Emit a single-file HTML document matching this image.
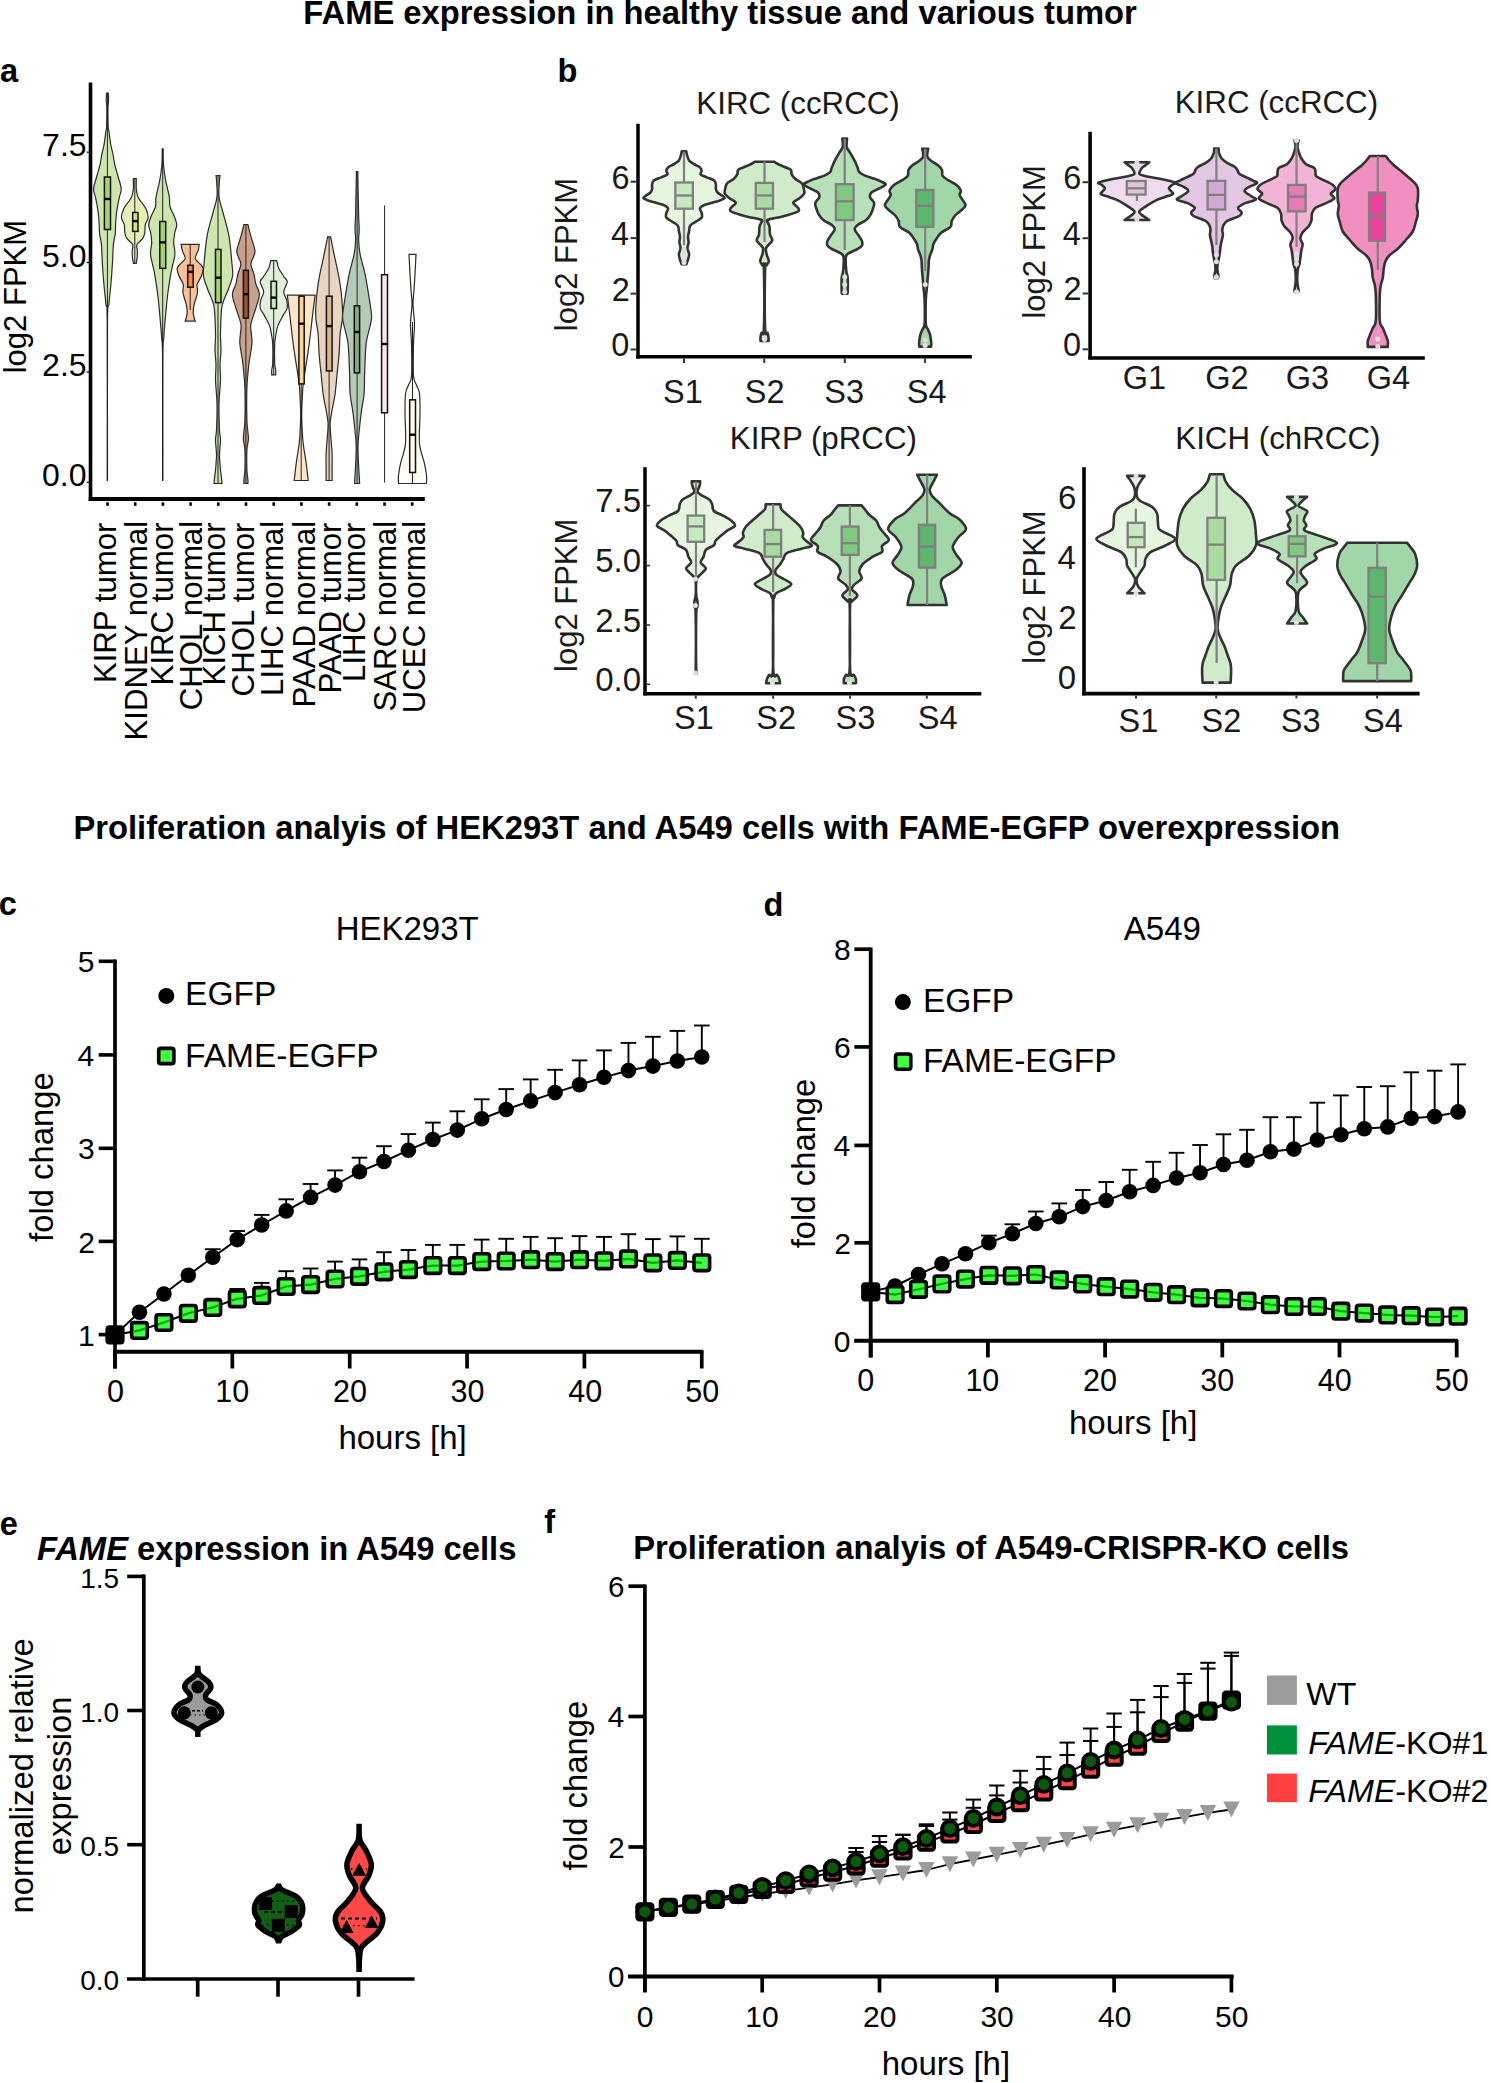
<!DOCTYPE html>
<html><head><meta charset="utf-8"><style>
html,body{margin:0;padding:0;background:#fff;width:1491px;height:2083px;overflow:hidden}
svg{display:block}
text{font-family:"Liberation Sans",sans-serif}
</style></head><body>
<svg width="1491" height="2083" viewBox="0 0 1491 2083" font-family="Liberation Sans, sans-serif">
<rect width="1491" height="2083" fill="#fff"/>
<text x="303.29" y="23.70" font-size="32.75" font-weight="bold">FAME expression in healthy tissue and various tumor</text>
<text x="73.39" y="838.90" font-size="32.75" font-weight="bold">Proliferation analyis of HEK293T and A549 cells with FAME-EGFP overexpression</text>
<text x="0.02" y="82.30" font-size="32.6" font-weight="bold">a</text>
<path d="M108.20,93.00 C108.27,94.17 108.63,97.50 108.60,100.00 C108.57,102.50 108.07,103.53 108.00,108.00 C107.93,112.47 108.05,122.97 108.20,126.80 C108.35,130.63 108.47,128.00 108.90,131.00 C109.33,134.00 110.13,140.97 110.80,144.80 C111.47,148.63 112.23,150.68 112.90,154.00 C113.57,157.32 113.97,161.03 114.80,164.70 C115.63,168.37 116.83,172.02 117.90,176.00 C118.97,179.98 120.95,185.10 121.20,188.60 C121.45,192.10 119.95,194.35 119.40,197.00 C118.85,199.65 118.40,201.67 117.90,204.50 C117.40,207.33 116.78,210.67 116.40,214.00 C116.02,217.33 115.80,221.17 115.60,224.50 C115.40,227.83 115.57,230.68 115.20,234.00 C114.83,237.32 113.87,239.35 113.40,244.40 C112.93,249.45 112.82,257.67 112.40,264.30 C111.98,270.93 111.48,277.55 110.90,284.20 C110.32,290.85 109.47,297.57 108.90,304.20 C108.33,310.83 107.73,294.62 107.50,324.00 C107.27,353.38 107.50,454.42 107.50,480.50 L107.30,480.50 C107.30,454.42 107.53,353.38 107.30,324.00 C107.07,294.62 106.47,310.83 105.90,304.20 C105.33,297.57 104.48,290.85 103.90,284.20 C103.32,277.55 102.82,270.93 102.40,264.30 C101.98,257.67 101.87,249.45 101.40,244.40 C100.93,239.35 99.97,237.32 99.60,234.00 C99.23,230.68 99.40,227.83 99.20,224.50 C99.00,221.17 98.78,217.33 98.40,214.00 C98.02,210.67 97.40,207.33 96.90,204.50 C96.40,201.67 95.95,199.65 95.40,197.00 C94.85,194.35 93.35,192.10 93.60,188.60 C93.85,185.10 95.83,179.98 96.90,176.00 C97.97,172.02 99.17,168.37 100.00,164.70 C100.83,161.03 101.23,157.32 101.90,154.00 C102.57,150.68 103.33,148.63 104.00,144.80 C104.67,140.97 105.47,134.00 105.90,131.00 C106.33,128.00 106.45,130.63 106.60,126.80 C106.75,122.97 106.87,112.47 106.80,108.00 C106.73,103.53 106.23,102.50 106.20,100.00 C106.17,97.50 106.53,94.17 106.60,93.00 Z" fill="#cde6ad" stroke="#2b2b2b" stroke-width="1.2"/>
<line x1="107.4" y1="93" x2="107.4" y2="480.5" stroke="#222" stroke-width="1.0"/>
<rect x="104.4" y="177" width="6.10" height="52.50" fill="#a8d46f" stroke="#111" stroke-width="1.5"/>
<line x1="104.4" y1="199" x2="110.5" y2="199" stroke="#000" stroke-width="2.4"/>
<path d="M136.30,178.60 C136.30,180.27 136.05,185.60 136.30,188.60 C136.55,191.60 136.97,194.37 137.80,196.60 C138.63,198.83 139.97,200.02 141.30,202.00 C142.63,203.98 144.65,205.92 145.80,208.50 C146.95,211.08 148.28,214.83 148.20,217.50 C148.12,220.17 145.87,222.02 145.30,224.50 C144.73,226.98 145.22,230.08 144.80,232.40 C144.38,234.72 144.10,236.40 142.80,238.40 C141.50,240.40 137.92,242.47 137.00,244.40 C136.08,246.33 137.25,248.07 137.30,250.00 C137.35,251.93 137.47,253.78 137.30,256.00 C137.13,258.22 136.47,262.08 136.30,263.30 L133.30,263.30 C133.13,262.08 132.47,258.22 132.30,256.00 C132.13,253.78 132.25,251.93 132.30,250.00 C132.35,248.07 133.52,246.33 132.60,244.40 C131.68,242.47 128.10,240.40 126.80,238.40 C125.50,236.40 125.22,234.72 124.80,232.40 C124.38,230.08 124.87,226.98 124.30,224.50 C123.73,222.02 121.48,220.17 121.40,217.50 C121.32,214.83 122.65,211.08 123.80,208.50 C124.95,205.92 126.97,203.98 128.30,202.00 C129.63,200.02 130.97,198.83 131.80,196.60 C132.63,194.37 133.05,191.60 133.30,188.60 C133.55,185.60 133.30,180.27 133.30,178.60 Z" fill="#e4eeb5" stroke="#2b2b2b" stroke-width="1.2"/>
<line x1="134.8" y1="178.6" x2="134.8" y2="263.3" stroke="#222" stroke-width="1.0"/>
<rect x="132.7" y="212.5" width="5.30" height="18.90" fill="#d4e67a" stroke="#111" stroke-width="1.5"/>
<line x1="132.7" y1="221.1" x2="138" y2="221.1" stroke="#000" stroke-width="2.4"/>
<path d="M163.10,148.80 C163.17,151.45 163.07,159.40 163.50,164.70 C163.93,170.00 164.73,175.28 165.70,180.60 C166.67,185.92 168.60,192.28 169.30,196.60 C170.00,200.92 169.17,203.43 169.90,206.50 C170.63,209.57 172.57,212.00 173.70,215.00 C174.83,218.00 176.53,221.50 176.70,224.50 C176.87,227.50 175.20,230.02 174.70,233.00 C174.20,235.98 173.70,239.57 173.70,242.40 C173.70,245.23 174.53,247.67 174.70,250.00 C174.87,252.33 175.03,253.90 174.70,256.40 C174.37,258.90 173.37,262.02 172.70,265.00 C172.03,267.98 171.53,269.43 170.70,274.30 C169.87,279.17 168.53,287.57 167.70,294.20 C166.87,300.83 166.37,306.80 165.70,314.10 C165.03,321.40 164.18,330.35 163.70,338.00 C163.22,345.65 162.95,336.25 162.80,360.00 C162.65,383.75 162.80,460.42 162.80,480.50 L162.60,480.50 C162.60,460.42 162.75,383.75 162.60,360.00 C162.45,336.25 162.18,345.65 161.70,338.00 C161.22,330.35 160.37,321.40 159.70,314.10 C159.03,306.80 158.53,300.83 157.70,294.20 C156.87,287.57 155.53,279.17 154.70,274.30 C153.87,269.43 153.37,267.98 152.70,265.00 C152.03,262.02 151.03,258.90 150.70,256.40 C150.37,253.90 150.53,252.33 150.70,250.00 C150.87,247.67 151.70,245.23 151.70,242.40 C151.70,239.57 151.20,235.98 150.70,233.00 C150.20,230.02 148.53,227.50 148.70,224.50 C148.87,221.50 150.57,218.00 151.70,215.00 C152.83,212.00 154.77,209.57 155.50,206.50 C156.23,203.43 155.40,200.92 156.10,196.60 C156.80,192.28 158.73,185.92 159.70,180.60 C160.67,175.28 161.47,170.00 161.90,164.70 C162.33,159.40 162.23,151.45 162.30,148.80 Z" fill="#cde6ad" stroke="#2b2b2b" stroke-width="1.2"/>
<line x1="162.7" y1="148.8" x2="162.7" y2="480.5" stroke="#222" stroke-width="1.0"/>
<rect x="159.8" y="221.5" width="5.90" height="46.80" fill="#a8d46f" stroke="#111" stroke-width="1.5"/>
<line x1="159.8" y1="242.4" x2="165.7" y2="242.4" stroke="#000" stroke-width="2.4"/>
<path d="M199.20,244.40 C199.03,245.40 198.87,248.08 198.20,250.40 C197.53,252.72 195.03,256.20 195.20,258.30 C195.37,260.40 197.87,261.33 199.20,263.00 C200.53,264.67 202.87,266.08 203.20,268.30 C203.53,270.52 202.20,273.65 201.20,276.30 C200.20,278.95 197.83,282.08 197.20,284.20 C196.57,286.32 197.40,287.33 197.40,289.00 C197.40,290.67 197.73,291.67 197.20,294.20 C196.67,296.73 194.87,301.22 194.20,304.20 C193.53,307.18 193.20,309.80 193.20,312.10 C193.20,314.40 193.87,316.50 194.20,318.00 C194.53,319.50 195.03,320.58 195.20,321.10 L185.20,321.10 C185.37,320.58 185.87,319.50 186.20,318.00 C186.53,316.50 187.20,314.40 187.20,312.10 C187.20,309.80 186.87,307.18 186.20,304.20 C185.53,301.22 183.73,296.73 183.20,294.20 C182.67,291.67 183.00,290.67 183.00,289.00 C183.00,287.33 183.83,286.32 183.20,284.20 C182.57,282.08 180.20,278.95 179.20,276.30 C178.20,273.65 176.87,270.52 177.20,268.30 C177.53,266.08 179.87,264.67 181.20,263.00 C182.53,261.33 185.03,260.40 185.20,258.30 C185.37,256.20 182.87,252.72 182.20,250.40 C181.53,248.08 181.37,245.40 181.20,244.40 Z" fill="#f9c095" stroke="#2b2b2b" stroke-width="1.2"/>
<line x1="190.2" y1="244.4" x2="190.2" y2="310" stroke="#222" stroke-width="1.0"/>
<rect x="187.7" y="265.3" width="5.50" height="21.90" fill="#f28b3c" stroke="#111" stroke-width="1.5"/>
<line x1="187.7" y1="271.9" x2="193.2" y2="271.9" stroke="#000" stroke-width="2.4"/>
<path d="M220.00,175.70 C219.92,176.42 219.67,176.52 219.50,180.00 C219.33,183.48 218.42,191.18 219.00,196.60 C219.58,202.02 221.33,205.87 223.00,212.50 C224.67,219.13 227.50,227.77 229.00,236.40 C230.50,245.03 231.42,257.65 232.00,264.30 C232.58,270.95 233.17,271.98 232.50,276.30 C231.83,280.62 229.75,285.22 228.00,290.20 C226.25,295.18 223.25,298.90 222.00,306.20 C220.75,313.50 220.67,326.70 220.50,334.00 C220.33,341.30 221.08,344.83 221.00,350.00 C220.92,355.17 220.08,360.00 220.00,365.00 C219.92,370.00 220.67,373.53 220.50,380.00 C220.33,386.47 219.17,395.47 219.00,403.80 C218.83,412.13 219.25,423.97 219.50,430.00 C219.75,436.03 220.50,435.83 220.50,440.00 C220.50,444.17 219.50,450.00 219.50,455.00 C219.50,460.00 220.17,466.17 220.50,470.00 C220.83,473.83 221.25,475.75 221.50,478.00 C221.75,480.25 221.92,482.58 222.00,483.50 L214.00,483.50 C214.08,482.58 214.25,480.25 214.50,478.00 C214.75,475.75 215.17,473.83 215.50,470.00 C215.83,466.17 216.50,460.00 216.50,455.00 C216.50,450.00 215.50,444.17 215.50,440.00 C215.50,435.83 216.25,436.03 216.50,430.00 C216.75,423.97 217.17,412.13 217.00,403.80 C216.83,395.47 215.67,386.47 215.50,380.00 C215.33,373.53 216.08,370.00 216.00,365.00 C215.92,360.00 215.08,355.17 215.00,350.00 C214.92,344.83 215.67,341.30 215.50,334.00 C215.33,326.70 215.25,313.50 214.00,306.20 C212.75,298.90 209.75,295.18 208.00,290.20 C206.25,285.22 204.17,280.62 203.50,276.30 C202.83,271.98 203.42,270.95 204.00,264.30 C204.58,257.65 205.50,245.03 207.00,236.40 C208.50,227.77 211.33,219.13 213.00,212.50 C214.67,205.87 216.42,202.02 217.00,196.60 C217.58,191.18 216.67,183.48 216.50,180.00 C216.33,176.52 216.08,176.42 216.00,175.70 Z" fill="#cde6ad" stroke="#2b2b2b" stroke-width="1.2"/>
<line x1="218" y1="175.7" x2="218" y2="483.5" stroke="#222" stroke-width="1.0"/>
<rect x="215.5" y="249.4" width="5.50" height="53.20" fill="#a8d46f" stroke="#111" stroke-width="1.5"/>
<line x1="215.5" y1="277.7" x2="221" y2="277.7" stroke="#000" stroke-width="2.4"/>
<path d="M247.90,224.50 C248.40,226.48 249.73,232.08 250.90,236.40 C252.07,240.72 254.48,246.97 254.90,250.40 C255.32,253.83 254.07,254.68 253.40,257.00 C252.73,259.32 250.82,261.47 250.90,264.30 C250.98,267.13 253.07,270.68 253.90,274.00 C254.73,277.32 254.98,280.83 255.90,284.20 C256.82,287.57 259.40,290.20 259.40,294.20 C259.40,298.20 257.32,303.22 255.90,308.20 C254.48,313.18 251.65,319.80 250.90,324.10 C250.15,328.40 251.23,330.68 251.40,334.00 C251.57,337.32 252.32,339.00 251.90,344.00 C251.48,349.00 249.73,356.70 248.90,364.00 C248.07,371.30 247.23,378.47 246.90,387.80 C246.57,397.13 246.73,412.63 246.90,420.00 C247.07,427.37 247.65,428.73 247.90,432.00 C248.15,435.27 248.57,436.60 248.40,439.60 C248.23,442.60 247.15,444.93 246.90,450.00 C246.65,455.07 246.73,465.08 246.90,470.00 C247.07,474.92 247.73,477.25 247.90,479.50 C248.07,481.75 247.90,482.83 247.90,483.50 L243.90,483.50 C243.90,482.83 243.73,481.75 243.90,479.50 C244.07,477.25 244.73,474.92 244.90,470.00 C245.07,465.08 245.15,455.07 244.90,450.00 C244.65,444.93 243.57,442.60 243.40,439.60 C243.23,436.60 243.65,435.27 243.90,432.00 C244.15,428.73 244.73,427.37 244.90,420.00 C245.07,412.63 245.23,397.13 244.90,387.80 C244.57,378.47 243.73,371.30 242.90,364.00 C242.07,356.70 240.32,349.00 239.90,344.00 C239.48,339.00 240.23,337.32 240.40,334.00 C240.57,330.68 241.65,328.40 240.90,324.10 C240.15,319.80 237.32,313.18 235.90,308.20 C234.48,303.22 232.40,298.20 232.40,294.20 C232.40,290.20 234.98,287.57 235.90,284.20 C236.82,280.83 237.07,277.32 237.90,274.00 C238.73,270.68 240.82,267.13 240.90,264.30 C240.98,261.47 239.07,259.32 238.40,257.00 C237.73,254.68 236.48,253.83 236.90,250.40 C237.32,246.97 239.73,240.72 240.90,236.40 C242.07,232.08 243.40,226.48 243.90,224.50 Z" fill="#c9a08a" stroke="#2b2b2b" stroke-width="1.2"/>
<line x1="245.9" y1="224.5" x2="245.9" y2="483.5" stroke="#222" stroke-width="1.0"/>
<rect x="243.4" y="270.3" width="5.00" height="47.80" fill="#a0522d" stroke="#111" stroke-width="1.5"/>
<line x1="243.4" y1="294.2" x2="248.4" y2="294.2" stroke="#000" stroke-width="2.4"/>
<path d="M276.70,260.70 C277.03,261.97 277.53,265.70 278.70,268.30 C279.87,270.90 282.28,274.13 283.70,276.30 C285.12,278.47 286.87,279.65 287.20,281.30 C287.53,282.95 286.28,284.38 285.70,286.20 C285.12,288.02 283.53,289.87 283.70,292.20 C283.87,294.53 286.12,297.55 286.70,300.20 C287.28,302.85 287.87,305.45 287.20,308.10 C286.53,310.75 284.28,313.10 282.70,316.10 C281.12,319.10 278.87,322.78 277.70,326.10 C276.53,329.42 276.20,333.02 275.70,336.00 C275.20,338.98 274.87,339.35 274.70,344.00 C274.53,348.65 274.53,359.57 274.70,363.90 C274.87,368.23 275.53,368.17 275.70,370.00 C275.87,371.83 275.70,374.08 275.70,374.90 L271.70,374.90 C271.70,374.08 271.53,371.83 271.70,370.00 C271.87,368.17 272.53,368.23 272.70,363.90 C272.87,359.57 272.87,348.65 272.70,344.00 C272.53,339.35 272.20,338.98 271.70,336.00 C271.20,333.02 270.87,329.42 269.70,326.10 C268.53,322.78 266.28,319.10 264.70,316.10 C263.12,313.10 260.87,310.75 260.20,308.10 C259.53,305.45 260.12,302.85 260.70,300.20 C261.28,297.55 263.53,294.53 263.70,292.20 C263.87,289.87 262.28,288.02 261.70,286.20 C261.12,284.38 259.87,282.95 260.20,281.30 C260.53,279.65 262.28,278.47 263.70,276.30 C265.12,274.13 267.53,270.90 268.70,268.30 C269.87,265.70 270.37,261.97 270.70,260.70 Z" fill="#e1f0dc" stroke="#2b2b2b" stroke-width="1.2"/>
<line x1="273.7" y1="260.7" x2="273.7" y2="374.9" stroke="#222" stroke-width="1.0"/>
<rect x="271" y="281.3" width="5.50" height="27.20" fill="#c8e6c0" stroke="#111" stroke-width="1.5"/>
<line x1="271" y1="297.6" x2="276.5" y2="297.6" stroke="#000" stroke-width="2.4"/>
<path d="M315.10,295.20 C314.70,298.35 313.68,305.97 312.70,314.10 C311.72,322.23 310.28,335.68 309.20,344.00 C308.12,352.32 307.20,357.35 306.20,364.00 C305.20,370.65 303.87,377.90 303.20,383.90 C302.53,389.90 302.45,395.03 302.20,400.00 C301.95,404.97 301.70,408.70 301.70,413.70 C301.70,418.70 301.95,425.02 302.20,430.00 C302.45,434.98 302.53,438.00 303.20,443.60 C303.87,449.20 305.37,457.45 306.20,463.60 C307.03,469.75 307.87,477.68 308.20,480.50 L294.20,480.50 C294.53,477.68 295.37,469.75 296.20,463.60 C297.03,457.45 298.53,449.20 299.20,443.60 C299.87,438.00 299.95,434.98 300.20,430.00 C300.45,425.02 300.70,418.70 300.70,413.70 C300.70,408.70 300.45,404.97 300.20,400.00 C299.95,395.03 299.87,389.90 299.20,383.90 C298.53,377.90 297.20,370.65 296.20,364.00 C295.20,357.35 294.28,352.32 293.20,344.00 C292.12,335.68 290.68,322.23 289.70,314.10 C288.72,305.97 287.70,298.35 287.30,295.20 Z" fill="#fde5c8" stroke="#2b2b2b" stroke-width="1.2"/>
<line x1="301.2" y1="295.2" x2="301.2" y2="480.5" stroke="#222" stroke-width="1.0"/>
<rect x="298.9" y="296.2" width="5.30" height="87.70" fill="#fdd49e" stroke="#111" stroke-width="1.5"/>
<line x1="298.9" y1="323.7" x2="304.2" y2="323.7" stroke="#000" stroke-width="2.4"/>
<path d="M330.60,236.80 C331.18,239.73 332.52,246.50 334.10,254.40 C335.68,262.30 338.68,274.25 340.10,284.20 C341.52,294.15 342.60,305.80 342.60,314.10 C342.60,322.40 340.68,327.35 340.10,334.00 C339.52,340.65 339.60,347.35 339.10,354.00 C338.60,360.65 337.77,367.27 337.10,373.90 C336.43,380.53 335.93,387.78 335.10,393.80 C334.27,399.82 332.93,405.02 332.10,410.00 C331.27,414.98 330.27,418.70 330.10,423.70 C329.93,428.70 330.77,435.02 331.10,440.00 C331.43,444.98 331.93,448.60 332.10,453.60 C332.27,458.60 332.10,465.52 332.10,470.00 C332.10,474.48 332.10,478.75 332.10,480.50 L326.10,480.50 C326.10,478.75 326.10,474.48 326.10,470.00 C326.10,465.52 325.93,458.60 326.10,453.60 C326.27,448.60 326.77,444.98 327.10,440.00 C327.43,435.02 328.27,428.70 328.10,423.70 C327.93,418.70 326.93,414.98 326.10,410.00 C325.27,405.02 323.93,399.82 323.10,393.80 C322.27,387.78 321.77,380.53 321.10,373.90 C320.43,367.27 319.60,360.65 319.10,354.00 C318.60,347.35 318.68,340.65 318.10,334.00 C317.52,327.35 315.60,322.40 315.60,314.10 C315.60,305.80 316.68,294.15 318.10,284.20 C319.52,274.25 322.52,262.30 324.10,254.40 C325.68,246.50 327.02,239.73 327.60,236.80 Z" fill="#e8d4bf" stroke="#2b2b2b" stroke-width="1.2"/>
<line x1="329.1" y1="236.8" x2="329.1" y2="480.5" stroke="#222" stroke-width="1.0"/>
<rect x="326.4" y="296.2" width="5.70" height="74.70" fill="#d9b68c" stroke="#111" stroke-width="1.5"/>
<line x1="326.4" y1="326.1" x2="332.1" y2="326.1" stroke="#000" stroke-width="2.4"/>
<path d="M357.80,171.70 C357.93,178.83 358.38,205.62 358.60,214.50 C358.82,223.38 359.02,222.02 359.10,225.00 C359.18,227.98 359.18,229.90 359.10,232.40 C359.02,234.90 358.43,236.33 358.60,240.00 C358.77,243.67 359.02,248.68 360.10,254.40 C361.18,260.12 363.43,266.00 365.10,274.30 C366.77,282.60 369.02,296.90 370.10,304.20 C371.18,311.50 371.77,313.80 371.60,318.10 C371.43,322.40 370.02,325.68 369.10,330.00 C368.18,334.32 366.85,336.68 366.10,344.00 C365.35,351.32 364.93,365.60 364.60,373.90 C364.27,382.20 364.68,387.17 364.10,393.80 C363.52,400.43 362.10,405.40 361.10,413.70 C360.10,422.00 358.52,435.05 358.10,443.60 C357.68,452.15 358.43,460.02 358.60,465.00 C358.77,469.98 358.93,470.42 359.10,473.50 C359.27,476.58 359.52,481.83 359.60,483.50 L354.60,483.50 C354.68,481.83 354.93,476.58 355.10,473.50 C355.27,470.42 355.43,469.98 355.60,465.00 C355.77,460.02 356.52,452.15 356.10,443.60 C355.68,435.05 354.10,422.00 353.10,413.70 C352.10,405.40 350.68,400.43 350.10,393.80 C349.52,387.17 349.93,382.20 349.60,373.90 C349.27,365.60 348.85,351.32 348.10,344.00 C347.35,336.68 346.02,334.32 345.10,330.00 C344.18,325.68 342.77,322.40 342.60,318.10 C342.43,313.80 343.02,311.50 344.10,304.20 C345.18,296.90 347.43,282.60 349.10,274.30 C350.77,266.00 353.02,260.12 354.10,254.40 C355.18,248.68 355.43,243.67 355.60,240.00 C355.77,236.33 355.18,234.90 355.10,232.40 C355.02,229.90 355.02,227.98 355.10,225.00 C355.18,222.02 355.38,223.38 355.60,214.50 C355.82,205.62 356.27,178.83 356.40,171.70 Z" fill="#b5cab6" stroke="#2b2b2b" stroke-width="1.2"/>
<line x1="357.1" y1="171.7" x2="357.1" y2="483.5" stroke="#222" stroke-width="1.0"/>
<rect x="354.3" y="305.8" width="5.30" height="67.10" fill="#86a986" stroke="#111" stroke-width="1.5"/>
<line x1="354.3" y1="332" x2="359.6" y2="332" stroke="#000" stroke-width="2.4"/>
<line x1="384.6" y1="205.5" x2="384.6" y2="482.5" stroke="#222" stroke-width="1.0"/>
<rect x="381.6" y="274.7" width="5.90" height="138.10" fill="#fae6f0" stroke="#111" stroke-width="1.5"/>
<line x1="381.6" y1="344" x2="387.5" y2="344" stroke="#000" stroke-width="2.4"/>
<path d="M416.00,254.40 C415.83,257.72 415.33,268.37 415.00,274.30 C414.67,280.23 414.33,285.02 414.00,290.00 C413.67,294.98 412.92,298.52 413.00,304.20 C413.08,309.88 414.42,317.47 414.50,324.10 C414.58,330.73 413.67,335.37 413.50,344.00 C413.33,352.63 413.00,369.07 413.50,375.90 C414.00,382.73 415.50,382.02 416.50,385.00 C417.50,387.98 418.92,389.02 419.50,393.80 C420.08,398.58 420.00,405.40 420.00,413.70 C420.00,422.00 418.75,435.28 419.50,443.60 C420.25,451.92 423.33,458.28 424.50,463.60 C425.67,468.92 426.17,472.18 426.50,475.50 C426.83,478.82 426.50,482.17 426.50,483.50 L398.50,483.50 C398.50,482.17 398.17,478.82 398.50,475.50 C398.83,472.18 399.33,468.92 400.50,463.60 C401.67,458.28 404.75,451.92 405.50,443.60 C406.25,435.28 405.00,422.00 405.00,413.70 C405.00,405.40 404.92,398.58 405.50,393.80 C406.08,389.02 407.50,387.98 408.50,385.00 C409.50,382.02 411.00,382.73 411.50,375.90 C412.00,369.07 411.67,352.63 411.50,344.00 C411.33,335.37 410.42,330.73 410.50,324.10 C410.58,317.47 411.92,309.88 412.00,304.20 C412.08,298.52 411.33,294.98 411.00,290.00 C410.67,285.02 410.33,280.23 410.00,274.30 C409.67,268.37 409.17,257.72 409.00,254.40 Z" fill="#fffdf5" stroke="#2b2b2b" stroke-width="1.2"/>
<line x1="412.5" y1="322" x2="412.5" y2="483.5" stroke="#222" stroke-width="1.0"/>
<rect x="409.7" y="399.8" width="5.80" height="72.70" fill="#fffbeb" stroke="#111" stroke-width="1.5"/>
<line x1="409.7" y1="434.7" x2="415.5" y2="434.7" stroke="#000" stroke-width="2.4"/>
<line x1="90.5" y1="82.5" x2="90.5" y2="501" stroke="#000" stroke-width="3.6"/>
<line x1="88.7" y1="499" x2="424.8" y2="499" stroke="#000" stroke-width="4"/>
<line x1="86.6" y1="152.2" x2="89" y2="152.2" stroke="#000" stroke-width="1.2"/>
<line x1="86.6" y1="262.5" x2="89" y2="262.5" stroke="#000" stroke-width="1.2"/>
<line x1="86.6" y1="372.1" x2="89" y2="372.1" stroke="#000" stroke-width="1.2"/>
<line x1="86.6" y1="482.3" x2="89" y2="482.3" stroke="#000" stroke-width="1.2"/>
<text x="42.10" y="155.60" font-size="32">7.5</text>
<text x="42.02" y="266.90" font-size="32">5.0</text>
<text x="42.10" y="376.10" font-size="32">2.5</text>
<text x="42.02" y="486.30" font-size="32">0.0</text>
<text x="25.90" y="373.26" font-size="31" transform="rotate(-90 25.90 373.26)">log2 FPKM</text>
<line x1="107.50" y1="502.3" x2="107.50" y2="505.8" stroke="#000" stroke-width="2.6"/>
<line x1="135.20" y1="502.3" x2="135.20" y2="505.8" stroke="#000" stroke-width="2.6"/>
<line x1="162.90" y1="502.3" x2="162.90" y2="505.8" stroke="#000" stroke-width="2.6"/>
<line x1="190.60" y1="502.3" x2="190.60" y2="505.8" stroke="#000" stroke-width="2.6"/>
<line x1="218.30" y1="502.3" x2="218.30" y2="505.8" stroke="#000" stroke-width="2.6"/>
<line x1="246.00" y1="502.3" x2="246.00" y2="505.8" stroke="#000" stroke-width="2.6"/>
<line x1="273.70" y1="502.3" x2="273.70" y2="505.8" stroke="#000" stroke-width="2.6"/>
<line x1="301.40" y1="502.3" x2="301.40" y2="505.8" stroke="#000" stroke-width="2.6"/>
<line x1="329.10" y1="502.3" x2="329.10" y2="505.8" stroke="#000" stroke-width="2.6"/>
<line x1="356.80" y1="502.3" x2="356.80" y2="505.8" stroke="#000" stroke-width="2.6"/>
<line x1="384.50" y1="502.3" x2="384.50" y2="505.8" stroke="#000" stroke-width="2.6"/>
<line x1="412.20" y1="502.3" x2="412.20" y2="505.8" stroke="#000" stroke-width="2.6"/>
<text x="115.60" y="683.11" font-size="31.2" transform="rotate(-90 115.60 683.11)">KIRP tumor</text>
<text x="146.70" y="740.44" font-size="31.2" transform="rotate(-90 146.70 740.44)">KIDNEY normal</text>
<text x="172.90" y="685.37" font-size="31.2" transform="rotate(-90 172.90 685.37)">KIRC tumor</text>
<text x="202.40" y="710.33" font-size="31.2" transform="rotate(-90 202.40 710.33)">CHOL normal</text>
<text x="225.20" y="685.37" font-size="31.2" transform="rotate(-90 225.20 685.37)">KICH tumor</text>
<text x="253.70" y="696.37" font-size="31.2" transform="rotate(-90 253.70 696.37)">CHOL tumor</text>
<text x="282.90" y="695.90" font-size="31.2" transform="rotate(-90 282.90 695.90)">LIHC normal</text>
<text x="315.50" y="707.53" font-size="31.2" transform="rotate(-90 315.50 707.53)">PAAD normal</text>
<text x="341.10" y="693.49" font-size="31.2" transform="rotate(-90 341.10 693.49)">PAAD tumor</text>
<text x="365.00" y="681.94" font-size="31.2" transform="rotate(-90 365.00 681.94)">LIHC tumor</text>
<text x="396.00" y="711.50" font-size="31.2" transform="rotate(-90 396.00 711.50)">SARC normal</text>
<text x="425.00" y="713.22" font-size="31.2" transform="rotate(-90 425.00 713.22)">UCEC normal</text>
<text x="557.58" y="82.20" font-size="32.6" font-weight="bold">b</text>
<text x="696.37" y="114.20" font-size="31.3" fill="#1a1a1a">KIRC (ccRCC)</text>
<path d="M686.30,151.40 C686.42,151.97 686.53,153.28 687.00,154.80 C687.47,156.32 687.98,158.98 689.10,160.50 C690.22,162.02 691.88,162.75 693.70,163.90 C695.52,165.05 698.67,166.25 700.00,167.40 C701.33,168.55 701.62,169.67 701.70,170.80 C701.78,171.93 699.75,173.15 700.50,174.20 C701.25,175.25 703.92,176.05 706.20,177.10 C708.48,178.15 712.58,179.27 714.20,180.50 C715.82,181.73 715.62,183.08 715.90,184.50 C716.18,185.92 715.62,187.67 715.90,189.00 C716.18,190.33 716.50,191.35 717.60,192.50 C718.70,193.65 721.35,194.95 722.50,195.90 C723.65,196.85 724.92,197.45 724.50,198.20 C724.08,198.95 723.33,199.27 720.00,200.40 C716.67,201.53 707.83,203.67 704.50,205.00 C701.17,206.33 700.47,207.07 700.00,208.40 C699.53,209.73 701.42,211.48 701.70,213.00 C701.98,214.52 702.48,216.17 701.70,217.50 C700.92,218.83 698.90,219.67 697.00,221.00 C695.10,222.33 691.62,223.80 690.30,225.50 C688.98,227.20 689.48,229.30 689.10,231.20 C688.72,233.10 688.08,235.00 688.00,236.90 C687.92,238.80 688.70,240.70 688.60,242.60 C688.50,244.50 687.32,246.40 687.40,248.30 C687.48,250.20 689.00,252.10 689.10,254.00 C689.20,255.90 688.47,257.98 688.00,259.70 C687.53,261.42 686.58,263.53 686.30,264.30 L681.70,264.30 C681.42,263.53 680.47,261.42 680.00,259.70 C679.53,257.98 678.80,255.90 678.90,254.00 C679.00,252.10 680.52,250.20 680.60,248.30 C680.68,246.40 679.50,244.50 679.40,242.60 C679.30,240.70 680.08,238.80 680.00,236.90 C679.92,235.00 679.28,233.10 678.90,231.20 C678.52,229.30 679.02,227.20 677.70,225.50 C676.38,223.80 672.90,222.33 671.00,221.00 C669.10,219.67 667.08,218.83 666.30,217.50 C665.52,216.17 666.02,214.52 666.30,213.00 C666.58,211.48 668.47,209.73 668.00,208.40 C667.53,207.07 666.83,206.33 663.50,205.00 C660.17,203.67 651.33,201.53 648.00,200.40 C644.67,199.27 643.92,198.95 643.50,198.20 C643.08,197.45 644.35,196.85 645.50,195.90 C646.65,194.95 649.30,193.65 650.40,192.50 C651.50,191.35 651.82,190.33 652.10,189.00 C652.38,187.67 651.82,185.92 652.10,184.50 C652.38,183.08 652.18,181.73 653.80,180.50 C655.42,179.27 659.52,178.15 661.80,177.10 C664.08,176.05 666.75,175.25 667.50,174.20 C668.25,173.15 666.22,171.93 666.30,170.80 C666.38,169.67 666.67,168.55 668.00,167.40 C669.33,166.25 672.48,165.05 674.30,163.90 C676.12,162.75 677.78,162.02 678.90,160.50 C680.02,158.98 680.53,156.32 681.00,154.80 C681.47,153.28 681.58,151.97 681.70,151.40 Z" fill="#e5f5e0" stroke="#333333" stroke-width="2.6" stroke-linejoin="round"/>
<line x1="684" y1="151.7" x2="684" y2="245.2" stroke="#7f7f7f" stroke-width="2.2"/>
<rect x="675.3" y="182.5" width="17.60" height="26.20" fill="#c7e9c0" stroke="#7f7f7f" stroke-width="2.3"/>
<line x1="675.3" y1="195.5" x2="692.9" y2="195.5" stroke="#7f7f7f" stroke-width="2.3"/>
<path d="M774.00,161.70 C775.03,162.27 777.45,163.78 780.20,165.10 C782.95,166.42 788.60,168.08 790.50,169.60 C792.40,171.12 790.83,172.67 791.60,174.20 C792.37,175.73 793.38,177.28 795.10,178.80 C796.82,180.32 800.48,181.78 801.90,183.30 C803.32,184.82 803.22,186.18 803.60,187.90 C803.98,189.62 804.88,191.88 804.20,193.60 C803.52,195.32 801.32,196.68 799.50,198.20 C797.68,199.72 793.47,201.00 793.30,202.70 C793.13,204.40 797.83,206.88 798.50,208.40 C799.17,209.92 799.97,210.47 797.30,211.80 C794.63,213.13 787.43,215.07 782.50,216.40 C777.57,217.73 770.12,218.70 767.70,219.80 C765.28,220.90 767.70,221.85 768.00,223.00 C768.30,224.15 769.17,224.77 769.50,226.70 C769.83,228.63 769.53,232.33 770.00,234.60 C770.47,236.87 772.55,238.58 772.30,240.30 C772.05,242.02 769.55,243.57 768.50,244.90 C767.45,246.23 766.33,246.78 766.00,248.30 C765.67,249.82 766.03,251.90 766.50,254.00 C766.97,256.10 768.80,259.00 768.80,260.90 C768.80,262.80 767.12,264.07 766.50,265.40 C765.88,266.73 765.33,258.40 765.10,268.90 C764.87,279.40 764.70,317.72 765.10,328.40 C765.50,339.08 766.93,331.48 767.50,333.00 C768.07,334.52 768.33,336.17 768.50,337.50 C768.67,338.83 768.50,340.42 768.50,341.00 L760.50,341.00 C760.50,340.42 760.33,338.83 760.50,337.50 C760.67,336.17 760.93,334.52 761.50,333.00 C762.07,331.48 763.50,339.08 763.90,328.40 C764.30,317.72 764.13,279.40 763.90,268.90 C763.67,258.40 763.12,266.73 762.50,265.40 C761.88,264.07 760.20,262.80 760.20,260.90 C760.20,259.00 762.03,256.10 762.50,254.00 C762.97,251.90 763.33,249.82 763.00,248.30 C762.67,246.78 761.55,246.23 760.50,244.90 C759.45,243.57 756.95,242.02 756.70,240.30 C756.45,238.58 758.53,236.87 759.00,234.60 C759.47,232.33 759.17,228.63 759.50,226.70 C759.83,224.77 760.70,224.15 761.00,223.00 C761.30,221.85 763.72,220.90 761.30,219.80 C758.88,218.70 751.43,217.73 746.50,216.40 C741.57,215.07 734.37,213.13 731.70,211.80 C729.03,210.47 729.83,209.92 730.50,208.40 C731.17,206.88 735.87,204.40 735.70,202.70 C735.53,201.00 731.32,199.72 729.50,198.20 C727.68,196.68 725.48,195.32 724.80,193.60 C724.12,191.88 725.02,189.62 725.40,187.90 C725.78,186.18 725.68,184.82 727.10,183.30 C728.52,181.78 732.18,180.32 733.90,178.80 C735.62,177.28 736.63,175.73 737.40,174.20 C738.17,172.67 736.60,171.12 738.50,169.60 C740.40,168.08 746.05,166.42 748.80,165.10 C751.55,163.78 753.97,162.27 755.00,161.70 Z" fill="#d0ebc9" stroke="#333333" stroke-width="2.6" stroke-linejoin="round"/>
<line x1="764.5" y1="161.5" x2="764.5" y2="242" stroke="#7f7f7f" stroke-width="2.2"/>
<rect x="755.8" y="182.9" width="17.20" height="25.80" fill="#a8dca0" stroke="#7f7f7f" stroke-width="2.3"/>
<line x1="755.8" y1="195.5" x2="773" y2="195.5" stroke="#7f7f7f" stroke-width="2.3"/>
<path d="M847.00,138.60 C846.95,140.02 846.17,144.73 846.70,147.10 C847.23,149.47 848.87,150.52 850.20,152.80 C851.53,155.08 853.47,158.33 854.70,160.80 C855.93,163.27 856.83,165.70 857.60,167.60 C858.37,169.50 858.07,170.87 859.30,172.20 C860.53,173.53 862.33,174.47 865.00,175.60 C867.67,176.73 872.27,177.85 875.30,179.00 C878.33,180.15 881.50,181.55 883.20,182.50 C884.90,183.45 886.08,183.75 885.50,184.70 C884.92,185.65 882.07,186.87 879.70,188.20 C877.33,189.53 872.90,191.18 871.30,192.70 C869.70,194.22 869.63,195.58 870.10,197.30 C870.57,199.02 873.62,201.10 874.10,203.00 C874.58,204.90 873.57,206.80 873.00,208.70 C872.43,210.60 871.85,212.50 870.70,214.40 C869.55,216.30 868.18,218.40 866.10,220.10 C864.02,221.80 860.10,223.08 858.20,224.60 C856.30,226.12 854.70,227.48 854.70,229.20 C854.70,230.92 857.02,233.00 858.20,234.90 C859.38,236.80 861.15,238.88 861.80,240.60 C862.45,242.32 862.70,243.87 862.10,245.20 C861.50,246.53 860.38,247.28 858.20,248.60 C856.02,249.92 851.05,251.77 849.00,253.10 C846.95,254.43 846.42,254.32 845.90,256.60 C845.38,258.88 845.77,263.95 845.90,266.80 C846.03,269.65 846.40,271.83 846.70,273.70 C847.00,275.57 847.53,274.95 847.70,278.00 C847.87,281.05 847.78,289.40 847.70,292.00 C847.62,294.60 847.28,293.33 847.20,293.60 L842.20,293.60 C842.12,293.33 841.78,294.60 841.70,292.00 C841.62,289.40 841.53,281.05 841.70,278.00 C841.87,274.95 842.40,275.57 842.70,273.70 C843.00,271.83 843.37,269.65 843.50,266.80 C843.63,263.95 844.02,258.88 843.50,256.60 C842.98,254.32 842.45,254.43 840.40,253.10 C838.35,251.77 833.38,249.92 831.20,248.60 C829.02,247.28 827.90,246.53 827.30,245.20 C826.70,243.87 826.95,242.32 827.60,240.60 C828.25,238.88 830.02,236.80 831.20,234.90 C832.38,233.00 834.70,230.92 834.70,229.20 C834.70,227.48 833.10,226.12 831.20,224.60 C829.30,223.08 825.38,221.80 823.30,220.10 C821.22,218.40 819.85,216.30 818.70,214.40 C817.55,212.50 816.97,210.60 816.40,208.70 C815.83,206.80 814.82,204.90 815.30,203.00 C815.78,201.10 818.83,199.02 819.30,197.30 C819.77,195.58 819.70,194.22 818.10,192.70 C816.50,191.18 812.07,189.53 809.70,188.20 C807.33,186.87 804.48,185.65 803.90,184.70 C803.32,183.75 804.50,183.45 806.20,182.50 C807.90,181.55 811.07,180.15 814.10,179.00 C817.13,177.85 821.73,176.73 824.40,175.60 C827.07,174.47 828.87,173.53 830.10,172.20 C831.33,170.87 831.03,169.50 831.80,167.60 C832.57,165.70 833.47,163.27 834.70,160.80 C835.93,158.33 837.87,155.08 839.20,152.80 C840.53,150.52 842.17,149.47 842.70,147.10 C843.23,144.73 842.45,140.02 842.40,138.60 Z" fill="#b8e0b8" stroke="#333333" stroke-width="2.6" stroke-linejoin="round"/>
<line x1="844.7" y1="138.6" x2="844.7" y2="250" stroke="#7f7f7f" stroke-width="2.2"/>
<rect x="835.9" y="184.2" width="17.70" height="35.90" fill="#80c980" stroke="#7f7f7f" stroke-width="2.3"/>
<line x1="835.9" y1="201.3" x2="853.6" y2="201.3" stroke="#7f7f7f" stroke-width="2.3"/>
<path d="M928.20,148.80 C928.03,150.03 926.72,154.20 927.20,156.20 C927.68,158.20 929.30,159.28 931.10,160.80 C932.90,162.32 936.18,163.78 938.00,165.30 C939.82,166.82 941.25,168.18 942.00,169.90 C942.75,171.62 941.47,173.88 942.50,175.60 C943.53,177.32 945.92,178.68 948.20,180.20 C950.48,181.72 954.10,183.00 956.20,184.70 C958.30,186.40 960.22,188.68 960.80,190.40 C961.38,192.12 959.32,193.28 959.70,195.00 C960.08,196.72 962.13,198.98 963.10,200.70 C964.07,202.42 965.70,203.78 965.50,205.30 C965.30,206.82 963.63,208.10 961.90,209.80 C960.17,211.50 956.80,213.60 955.10,215.50 C953.40,217.40 952.47,219.30 951.70,221.20 C950.93,223.10 952.22,225.00 950.50,226.90 C948.78,228.80 943.68,230.70 941.40,232.60 C939.12,234.50 938.13,236.40 936.80,238.30 C935.47,240.20 934.15,242.10 933.40,244.00 C932.65,245.90 932.87,247.80 932.30,249.70 C931.73,251.60 930.58,253.50 930.00,255.40 C929.42,257.30 929.03,259.20 928.80,261.10 C928.57,263.00 928.78,263.95 928.60,266.80 C928.42,269.65 928.02,274.40 927.70,278.20 C927.38,282.00 927.02,285.97 926.70,289.60 C926.38,293.23 925.95,294.30 925.80,300.00 C925.65,305.70 925.40,318.80 925.80,323.80 C926.20,328.80 927.47,328.10 928.20,330.00 C928.93,331.90 929.70,333.20 930.20,335.20 C930.70,337.20 931.03,340.10 931.20,342.00 C931.37,343.90 931.20,345.83 931.20,346.60 L919.20,346.60 C919.20,345.83 919.03,343.90 919.20,342.00 C919.37,340.10 919.70,337.20 920.20,335.20 C920.70,333.20 921.47,331.90 922.20,330.00 C922.93,328.10 924.20,328.80 924.60,323.80 C925.00,318.80 924.75,305.70 924.60,300.00 C924.45,294.30 924.02,293.23 923.70,289.60 C923.38,285.97 923.02,282.00 922.70,278.20 C922.38,274.40 921.98,269.65 921.80,266.80 C921.62,263.95 921.83,263.00 921.60,261.10 C921.37,259.20 920.98,257.30 920.40,255.40 C919.82,253.50 918.67,251.60 918.10,249.70 C917.53,247.80 917.75,245.90 917.00,244.00 C916.25,242.10 914.93,240.20 913.60,238.30 C912.27,236.40 911.28,234.50 909.00,232.60 C906.72,230.70 901.62,228.80 899.90,226.90 C898.18,225.00 899.47,223.10 898.70,221.20 C897.93,219.30 897.00,217.40 895.30,215.50 C893.60,213.60 890.23,211.50 888.50,209.80 C886.77,208.10 885.10,206.82 884.90,205.30 C884.70,203.78 886.33,202.42 887.30,200.70 C888.27,198.98 890.32,196.72 890.70,195.00 C891.08,193.28 889.02,192.12 889.60,190.40 C890.18,188.68 892.10,186.40 894.20,184.70 C896.30,183.00 899.92,181.72 902.20,180.20 C904.48,178.68 906.87,177.32 907.90,175.60 C908.93,173.88 907.65,171.62 908.40,169.90 C909.15,168.18 910.58,166.82 912.40,165.30 C914.22,163.78 917.50,162.32 919.30,160.80 C921.10,159.28 922.72,158.20 923.20,156.20 C923.68,154.20 922.37,150.03 922.20,148.80 Z" fill="#a1d6a9" stroke="#333333" stroke-width="2.6" stroke-linejoin="round"/>
<line x1="925.2" y1="148.8" x2="925.2" y2="271" stroke="#7f7f7f" stroke-width="2.2"/>
<rect x="916.3" y="189.9" width="17.10" height="37.00" fill="#5db56e" stroke="#7f7f7f" stroke-width="2.3"/>
<line x1="916.3" y1="205.8" x2="933.4" y2="205.8" stroke="#7f7f7f" stroke-width="2.3"/>
<line x1="638" y1="123.8" x2="638" y2="358.6" stroke="#000" stroke-width="3.5"/>
<line x1="636.3" y1="356.8" x2="971.8" y2="356.8" stroke="#000" stroke-width="3.6"/>
<line x1="630.6" y1="181.7" x2="636.3" y2="181.7" stroke="#333333" stroke-width="2"/>
<text x="611.44" y="188.60" font-size="32.5" fill="#1a1a1a">6</text>
<line x1="630.6" y1="238.1" x2="636.3" y2="238.1" stroke="#333333" stroke-width="2"/>
<text x="610.96" y="245.00" font-size="32.5" fill="#1a1a1a">4</text>
<line x1="630.6" y1="293.6" x2="636.3" y2="293.6" stroke="#333333" stroke-width="2"/>
<text x="611.69" y="300.50" font-size="32.5" fill="#1a1a1a">2</text>
<line x1="630.6" y1="349.5" x2="636.3" y2="349.5" stroke="#333333" stroke-width="2"/>
<text x="611.28" y="356.40" font-size="32.5" fill="#1a1a1a">0</text>
<text x="577.00" y="331.21" font-size="31" fill="#1a1a1a" transform="rotate(-90 577.00 331.21)">log2 FPKM</text>
<line x1="684" y1="358.6" x2="684" y2="363" stroke="#333333" stroke-width="2"/>
<text x="683.00" y="403.20" font-size="32.5" text-anchor="middle" fill="#1a1a1a">S1</text>
<line x1="764.3" y1="358.6" x2="764.3" y2="363" stroke="#333333" stroke-width="2"/>
<text x="764.70" y="403.20" font-size="32.5" text-anchor="middle" fill="#1a1a1a">S2</text>
<line x1="844.8" y1="358.6" x2="844.8" y2="363" stroke="#333333" stroke-width="2"/>
<text x="844.20" y="403.20" font-size="32.5" text-anchor="middle" fill="#1a1a1a">S3</text>
<line x1="925.1" y1="358.6" x2="925.1" y2="363" stroke="#333333" stroke-width="2"/>
<text x="926.60" y="403.20" font-size="32.5" text-anchor="middle" fill="#1a1a1a">S4</text>
<circle cx="684" cy="249" r="2.5" fill="#e0e0e0"/>
<circle cx="684" cy="253.5" r="2.5" fill="#e0e0e0"/>
<circle cx="684" cy="258" r="2.5" fill="#e0e0e0"/>
<circle cx="684" cy="262.5" r="2.5" fill="#e0e0e0"/>
<circle cx="764.5" cy="339.5" r="2.5" fill="#e0e0e0"/>
<circle cx="844.7" cy="277.1" r="2.5" fill="#e0e0e0"/>
<circle cx="844.7" cy="284.5" r="2.5" fill="#e0e0e0"/>
<circle cx="844.7" cy="292" r="2.5" fill="#e0e0e0"/>
<circle cx="925.2" cy="284.5" r="2.5" fill="#e0e0e0"/>
<circle cx="925.2" cy="340" r="2.5" fill="#e0e0e0"/>
<circle cx="925.2" cy="345.5" r="2.5" fill="#e0e0e0"/>
<text x="1174.72" y="113.30" font-size="31.3" fill="#1a1a1a">KIRC (ccRCC)</text>
<path d="M1149.20,162.30 C1148.65,162.75 1147.12,164.05 1145.90,165.00 C1144.68,165.95 1142.98,166.53 1141.90,168.00 C1140.82,169.47 1138.90,172.47 1139.40,173.80 C1139.90,175.13 1141.98,175.27 1144.90,176.00 C1147.82,176.73 1151.90,177.12 1156.90,178.20 C1161.90,179.28 1172.40,181.37 1174.90,182.50 C1177.40,183.63 1172.90,184.03 1171.90,185.00 C1170.90,185.97 1169.07,187.30 1168.90,188.30 C1168.73,189.30 1170.23,190.05 1170.90,191.00 C1171.57,191.95 1173.90,193.00 1172.90,194.00 C1171.90,195.00 1167.57,196.03 1164.90,197.00 C1162.23,197.97 1159.90,198.37 1156.90,199.80 C1153.90,201.23 1149.82,203.68 1146.90,205.60 C1143.98,207.52 1140.23,209.73 1139.40,211.30 C1138.57,212.87 1140.98,214.03 1141.90,215.00 C1142.82,215.97 1143.68,216.27 1144.90,217.10 C1146.12,217.93 1148.48,219.52 1149.20,220.00 L1124.60,220.00 C1125.32,219.52 1127.68,217.93 1128.90,217.10 C1130.12,216.27 1130.98,215.97 1131.90,215.00 C1132.82,214.03 1135.23,212.87 1134.40,211.30 C1133.57,209.73 1129.82,207.52 1126.90,205.60 C1123.98,203.68 1119.90,201.23 1116.90,199.80 C1113.90,198.37 1111.57,197.97 1108.90,197.00 C1106.23,196.03 1101.90,195.00 1100.90,194.00 C1099.90,193.00 1102.23,191.95 1102.90,191.00 C1103.57,190.05 1105.07,189.30 1104.90,188.30 C1104.73,187.30 1102.90,185.97 1101.90,185.00 C1100.90,184.03 1096.40,183.63 1098.90,182.50 C1101.40,181.37 1111.90,179.28 1116.90,178.20 C1121.90,177.12 1125.98,176.73 1128.90,176.00 C1131.82,175.27 1133.90,175.13 1134.40,173.80 C1134.90,172.47 1132.98,169.47 1131.90,168.00 C1130.82,166.53 1129.12,165.95 1127.90,165.00 C1126.68,164.05 1125.15,162.75 1124.60,162.30 Z" fill="#eedcee" stroke="#333333" stroke-width="2.6" stroke-linejoin="round"/>
<line x1="1136.9" y1="181" x2="1136.9" y2="201" stroke="#7f7f7f" stroke-width="2.2"/>
<rect x="1126.8" y="181" width="18.80" height="13.60" fill="#dcc4de" stroke="#7f7f7f" stroke-width="2.3"/>
<line x1="1126.8" y1="188.3" x2="1145.6" y2="188.3" stroke="#7f7f7f" stroke-width="2.3"/>
<path d="M1218.70,148.50 C1218.73,149.18 1218.40,150.93 1218.90,152.60 C1219.40,154.27 1220.25,156.73 1221.70,158.50 C1223.15,160.27 1225.45,161.83 1227.60,163.20 C1229.75,164.57 1232.95,165.53 1234.60,166.70 C1236.25,167.87 1236.72,169.03 1237.50,170.20 C1238.28,171.37 1237.83,172.52 1239.30,173.70 C1240.77,174.88 1243.95,176.12 1246.30,177.30 C1248.65,178.48 1251.63,179.83 1253.40,180.80 C1255.17,181.77 1257.88,181.93 1256.90,183.10 C1255.92,184.27 1249.55,186.43 1247.50,187.80 C1245.45,189.17 1244.02,189.93 1244.60,191.30 C1245.18,192.67 1249.15,194.62 1251.00,196.00 C1252.85,197.38 1256.67,198.42 1255.70,199.60 C1254.73,200.78 1248.13,201.73 1245.20,203.10 C1242.27,204.47 1238.70,206.23 1238.10,207.80 C1237.50,209.37 1241.40,211.13 1241.60,212.50 C1241.80,213.87 1241.63,214.63 1239.30,216.00 C1236.97,217.37 1230.25,219.13 1227.60,220.70 C1224.95,222.27 1224.28,223.83 1223.40,225.40 C1222.52,226.97 1222.38,228.53 1222.30,230.10 C1222.22,231.67 1223.00,233.05 1222.90,234.80 C1222.80,236.55 1222.10,238.65 1221.70,240.60 C1221.30,242.55 1220.80,244.53 1220.50,246.50 C1220.20,248.47 1220.17,250.45 1219.90,252.40 C1219.63,254.35 1219.28,256.25 1218.90,258.20 C1218.52,260.15 1217.85,262.13 1217.60,264.10 C1217.35,266.07 1217.27,268.05 1217.40,270.00 C1217.53,271.95 1218.32,274.43 1218.40,275.80 C1218.48,277.17 1217.98,277.80 1217.90,278.20 L1214.90,278.20 C1214.82,277.80 1214.32,277.17 1214.40,275.80 C1214.48,274.43 1215.27,271.95 1215.40,270.00 C1215.53,268.05 1215.45,266.07 1215.20,264.10 C1214.95,262.13 1214.28,260.15 1213.90,258.20 C1213.52,256.25 1213.17,254.35 1212.90,252.40 C1212.63,250.45 1212.60,248.47 1212.30,246.50 C1212.00,244.53 1211.50,242.55 1211.10,240.60 C1210.70,238.65 1210.00,236.55 1209.90,234.80 C1209.80,233.05 1210.58,231.67 1210.50,230.10 C1210.42,228.53 1210.28,226.97 1209.40,225.40 C1208.52,223.83 1207.85,222.27 1205.20,220.70 C1202.55,219.13 1195.83,217.37 1193.50,216.00 C1191.17,214.63 1191.00,213.87 1191.20,212.50 C1191.40,211.13 1195.30,209.37 1194.70,207.80 C1194.10,206.23 1190.53,204.47 1187.60,203.10 C1184.67,201.73 1178.07,200.78 1177.10,199.60 C1176.13,198.42 1179.95,197.38 1181.80,196.00 C1183.65,194.62 1187.62,192.67 1188.20,191.30 C1188.78,189.93 1187.35,189.17 1185.30,187.80 C1183.25,186.43 1176.88,184.27 1175.90,183.10 C1174.92,181.93 1177.63,181.77 1179.40,180.80 C1181.17,179.83 1184.15,178.48 1186.50,177.30 C1188.85,176.12 1192.03,174.88 1193.50,173.70 C1194.97,172.52 1194.52,171.37 1195.30,170.20 C1196.08,169.03 1196.55,167.87 1198.20,166.70 C1199.85,165.53 1203.05,164.57 1205.20,163.20 C1207.35,161.83 1209.65,160.27 1211.10,158.50 C1212.55,156.73 1213.40,154.27 1213.90,152.60 C1214.40,150.93 1214.07,149.18 1214.10,148.50 Z" fill="#e2c6e2" stroke="#333333" stroke-width="2.6" stroke-linejoin="round"/>
<line x1="1216.4" y1="148.5" x2="1216.4" y2="245" stroke="#7f7f7f" stroke-width="2.2"/>
<rect x="1207.6" y="180.8" width="17.60" height="28.70" fill="#d4a8d4" stroke="#7f7f7f" stroke-width="2.3"/>
<line x1="1207.6" y1="194.9" x2="1225.2" y2="194.9" stroke="#7f7f7f" stroke-width="2.3"/>
<path d="M1298.50,140.30 C1298.33,141.37 1297.42,144.65 1297.50,146.70 C1297.58,148.75 1298.35,150.63 1299.00,152.60 C1299.65,154.57 1300.22,156.55 1301.40,158.50 C1302.58,160.45 1303.95,162.73 1306.10,164.30 C1308.25,165.87 1312.73,166.52 1314.30,167.90 C1315.87,169.28 1315.22,171.23 1315.50,172.60 C1315.78,173.97 1314.83,174.93 1316.00,176.10 C1317.17,177.27 1319.85,178.23 1322.50,179.60 C1325.15,180.97 1329.73,182.73 1331.90,184.30 C1334.07,185.87 1335.68,187.43 1335.50,189.00 C1335.32,190.57 1331.00,192.13 1330.80,193.70 C1330.60,195.27 1335.08,196.83 1334.30,198.40 C1333.52,199.97 1329.23,201.53 1326.10,203.10 C1322.97,204.67 1317.85,206.05 1315.50,207.80 C1313.15,209.55 1312.68,211.45 1312.00,213.60 C1311.32,215.75 1311.98,218.55 1311.40,220.70 C1310.82,222.85 1309.97,224.55 1308.50,226.50 C1307.03,228.45 1303.97,230.43 1302.60,232.40 C1301.23,234.37 1300.30,236.33 1300.30,238.30 C1300.30,240.27 1302.42,242.25 1302.60,244.20 C1302.78,246.15 1301.78,247.67 1301.40,250.00 C1301.02,252.33 1300.62,255.85 1300.30,258.20 C1299.98,260.55 1299.93,262.13 1299.50,264.10 C1299.07,266.07 1298.07,267.07 1297.70,270.00 C1297.33,272.93 1297.17,278.38 1297.30,281.70 C1297.43,285.02 1298.38,288.13 1298.50,289.90 C1298.62,291.67 1298.08,291.90 1298.00,292.30 L1295.00,292.30 C1294.92,291.90 1294.38,291.67 1294.50,289.90 C1294.62,288.13 1295.57,285.02 1295.70,281.70 C1295.83,278.38 1295.67,272.93 1295.30,270.00 C1294.93,267.07 1293.93,266.07 1293.50,264.10 C1293.07,262.13 1293.02,260.55 1292.70,258.20 C1292.38,255.85 1291.98,252.33 1291.60,250.00 C1291.22,247.67 1290.22,246.15 1290.40,244.20 C1290.58,242.25 1292.70,240.27 1292.70,238.30 C1292.70,236.33 1291.77,234.37 1290.40,232.40 C1289.03,230.43 1285.97,228.45 1284.50,226.50 C1283.03,224.55 1282.18,222.85 1281.60,220.70 C1281.02,218.55 1281.68,215.75 1281.00,213.60 C1280.32,211.45 1279.85,209.55 1277.50,207.80 C1275.15,206.05 1270.03,204.67 1266.90,203.10 C1263.77,201.53 1259.48,199.97 1258.70,198.40 C1257.92,196.83 1262.40,195.27 1262.20,193.70 C1262.00,192.13 1257.68,190.57 1257.50,189.00 C1257.32,187.43 1258.93,185.87 1261.10,184.30 C1263.27,182.73 1267.85,180.97 1270.50,179.60 C1273.15,178.23 1275.83,177.27 1277.00,176.10 C1278.17,174.93 1277.22,173.97 1277.50,172.60 C1277.78,171.23 1277.13,169.28 1278.70,167.90 C1280.27,166.52 1284.75,165.87 1286.90,164.30 C1289.05,162.73 1290.42,160.45 1291.60,158.50 C1292.78,156.55 1293.35,154.57 1294.00,152.60 C1294.65,150.63 1295.42,148.75 1295.50,146.70 C1295.58,144.65 1294.67,141.37 1294.50,140.30 Z" fill="#f1b4d6" stroke="#333333" stroke-width="2.6" stroke-linejoin="round"/>
<line x1="1296.5" y1="140.3" x2="1296.5" y2="247" stroke="#7f7f7f" stroke-width="2.2"/>
<rect x="1288" y="184.9" width="17.60" height="26.40" fill="#e47ab6" stroke="#7f7f7f" stroke-width="2.3"/>
<line x1="1288" y1="196.6" x2="1305.6" y2="196.6" stroke="#7f7f7f" stroke-width="2.3"/>
<path d="M1385.80,156.00 C1386.30,156.67 1387.47,158.47 1388.80,160.00 C1390.13,161.53 1391.97,163.53 1393.80,165.20 C1395.63,166.87 1397.47,168.08 1399.80,170.00 C1402.13,171.92 1405.47,174.70 1407.80,176.70 C1410.13,178.70 1412.13,180.07 1413.80,182.00 C1415.47,183.93 1417.13,185.30 1417.80,188.30 C1418.47,191.30 1417.97,197.05 1417.80,200.00 C1417.63,202.95 1416.80,203.63 1416.80,206.00 C1416.80,208.37 1417.97,211.53 1417.80,214.20 C1417.63,216.87 1416.63,219.12 1415.80,222.00 C1414.97,224.88 1414.47,228.50 1412.80,231.50 C1411.13,234.50 1408.30,237.12 1405.80,240.00 C1403.30,242.88 1400.47,246.30 1397.80,248.80 C1395.13,251.30 1391.80,253.07 1389.80,255.00 C1387.80,256.93 1386.80,258.23 1385.80,260.40 C1384.80,262.57 1384.30,265.12 1383.80,268.00 C1383.30,270.88 1383.30,274.87 1382.80,277.70 C1382.30,280.53 1381.30,282.12 1380.80,285.00 C1380.30,287.88 1379.97,289.02 1379.80,295.00 C1379.63,300.98 1379.30,315.40 1379.80,320.90 C1380.30,326.40 1381.80,325.58 1382.80,328.00 C1383.80,330.42 1384.97,333.23 1385.80,335.40 C1386.63,337.57 1387.47,339.08 1387.80,341.00 C1388.13,342.92 1387.80,345.92 1387.80,346.90 L1367.80,346.90 C1367.80,345.92 1367.47,342.92 1367.80,341.00 C1368.13,339.08 1368.97,337.57 1369.80,335.40 C1370.63,333.23 1371.80,330.42 1372.80,328.00 C1373.80,325.58 1375.30,326.40 1375.80,320.90 C1376.30,315.40 1375.97,300.98 1375.80,295.00 C1375.63,289.02 1375.30,287.88 1374.80,285.00 C1374.30,282.12 1373.30,280.53 1372.80,277.70 C1372.30,274.87 1372.30,270.88 1371.80,268.00 C1371.30,265.12 1370.80,262.57 1369.80,260.40 C1368.80,258.23 1367.80,256.93 1365.80,255.00 C1363.80,253.07 1360.47,251.30 1357.80,248.80 C1355.13,246.30 1352.30,242.88 1349.80,240.00 C1347.30,237.12 1344.47,234.50 1342.80,231.50 C1341.13,228.50 1340.63,224.88 1339.80,222.00 C1338.97,219.12 1337.97,216.87 1337.80,214.20 C1337.63,211.53 1338.80,208.37 1338.80,206.00 C1338.80,203.63 1337.97,202.95 1337.80,200.00 C1337.63,197.05 1337.13,191.30 1337.80,188.30 C1338.47,185.30 1340.13,183.93 1341.80,182.00 C1343.47,180.07 1345.47,178.70 1347.80,176.70 C1350.13,174.70 1353.47,171.92 1355.80,170.00 C1358.13,168.08 1359.97,166.87 1361.80,165.20 C1363.63,163.53 1365.47,161.53 1366.80,160.00 C1368.13,158.47 1369.30,156.67 1369.80,156.00 Z" fill="#f18fc1" stroke="#333333" stroke-width="2.6" stroke-linejoin="round"/>
<line x1="1377.8" y1="156" x2="1377.8" y2="270" stroke="#7f7f7f" stroke-width="2.2"/>
<rect x="1369.1" y="192.6" width="15.90" height="48.20" fill="#e8449b" stroke="#7f7f7f" stroke-width="2.3"/>
<line x1="1369.1" y1="216.5" x2="1385" y2="216.5" stroke="#7f7f7f" stroke-width="2.3"/>
<line x1="1090.1" y1="131.8" x2="1090.1" y2="359.3" stroke="#000" stroke-width="3.6"/>
<line x1="1088.3" y1="358" x2="1424.8" y2="358" stroke="#000" stroke-width="3.6"/>
<line x1="1082.6" y1="182.2" x2="1088.3" y2="182.2" stroke="#333333" stroke-width="2"/>
<text x="1063.14" y="189.00" font-size="32.5" fill="#1a1a1a">6</text>
<line x1="1082.6" y1="238.2" x2="1088.3" y2="238.2" stroke="#333333" stroke-width="2"/>
<text x="1062.66" y="245.00" font-size="32.5" fill="#1a1a1a">4</text>
<line x1="1082.6" y1="293.5" x2="1088.3" y2="293.5" stroke="#333333" stroke-width="2"/>
<text x="1063.39" y="300.30" font-size="32.5" fill="#1a1a1a">2</text>
<line x1="1082.6" y1="349.3" x2="1088.3" y2="349.3" stroke="#333333" stroke-width="2"/>
<text x="1062.98" y="356.10" font-size="32.5" fill="#1a1a1a">0</text>
<text x="1044.80" y="318.56" font-size="31" fill="#1a1a1a" transform="rotate(-90 1044.80 318.56)">log2 FPKM</text>
<text x="1144.50" y="388.70" font-size="32.5" text-anchor="middle" fill="#1a1a1a">G1</text>
<text x="1227.00" y="388.70" font-size="32.5" text-anchor="middle" fill="#1a1a1a">G2</text>
<text x="1307.50" y="388.70" font-size="32.5" text-anchor="middle" fill="#1a1a1a">G3</text>
<text x="1388.50" y="388.70" font-size="32.5" text-anchor="middle" fill="#1a1a1a">G4</text>
<circle cx="1136.9" cy="162.5" r="2.5" fill="#e0e0e0"/>
<circle cx="1136.9" cy="219.5" r="2.5" fill="#e0e0e0"/>
<circle cx="1216.4" cy="254.7" r="2.5" fill="#e0e0e0"/>
<circle cx="1216.4" cy="261.8" r="2.5" fill="#e0e0e0"/>
<circle cx="1216.4" cy="277" r="2.5" fill="#e0e0e0"/>
<circle cx="1296.5" cy="140.5" r="2.5" fill="#e0e0e0"/>
<circle cx="1296.5" cy="254" r="2.5" fill="#e0e0e0"/>
<circle cx="1296.5" cy="259" r="2.5" fill="#e0e0e0"/>
<circle cx="1296.5" cy="264" r="2.5" fill="#e0e0e0"/>
<circle cx="1296.5" cy="292" r="2.5" fill="#e0e0e0"/>
<circle cx="1377.8" cy="339" r="2.5" fill="#e0e0e0"/>
<circle cx="1377.8" cy="346.5" r="2.5" fill="#e0e0e0"/>
<text x="729.77" y="449.20" font-size="31.3" fill="#1a1a1a">KIRP (pRCC)</text>
<path d="M700.15,481.40 C700.12,481.83 700.13,483.05 699.95,484.00 C699.77,484.95 699.47,485.82 699.05,487.10 C698.63,488.38 697.07,490.37 697.45,491.70 C697.83,493.03 699.38,493.78 701.35,495.10 C703.32,496.42 707.45,498.08 709.25,499.60 C711.05,501.12 711.38,502.30 712.15,504.20 C712.92,506.10 712.05,509.10 713.85,511.00 C715.65,512.90 719.92,513.88 722.95,515.60 C725.98,517.32 730.05,519.58 732.05,521.30 C734.05,523.02 735.70,524.38 734.95,525.90 C734.20,527.42 729.93,528.70 727.55,530.40 C725.17,532.10 722.65,534.38 720.65,536.10 C718.65,537.82 716.68,539.17 715.55,540.70 C714.42,542.23 715.47,543.78 713.85,545.30 C712.23,546.82 707.57,547.90 705.85,549.80 C704.13,551.70 704.40,554.60 703.55,556.70 C702.70,558.80 700.37,560.50 700.75,562.40 C701.13,564.30 705.57,566.40 705.85,568.10 C706.13,569.80 703.78,571.08 702.45,572.60 C701.12,574.12 698.88,575.68 697.85,577.20 C696.82,578.72 696.52,578.67 696.25,581.70 C695.98,584.73 696.05,592.17 696.25,595.40 C696.45,598.63 697.25,599.20 697.45,601.10 C697.65,603.00 697.65,604.70 697.45,606.80 C697.25,608.90 696.47,603.50 696.25,613.70 C696.03,623.90 696.03,658.18 696.15,668.00 C696.27,677.82 696.82,671.83 696.95,672.60 L694.95,672.60 C695.08,671.83 695.63,677.82 695.75,668.00 C695.87,658.18 695.87,623.90 695.65,613.70 C695.43,603.50 694.65,608.90 694.45,606.80 C694.25,604.70 694.25,603.00 694.45,601.10 C694.65,599.20 695.45,598.63 695.65,595.40 C695.85,592.17 695.92,584.73 695.65,581.70 C695.38,578.67 695.08,578.72 694.05,577.20 C693.02,575.68 690.78,574.12 689.45,572.60 C688.12,571.08 685.77,569.80 686.05,568.10 C686.33,566.40 690.77,564.30 691.15,562.40 C691.53,560.50 689.20,558.80 688.35,556.70 C687.50,554.60 687.77,551.70 686.05,549.80 C684.33,547.90 679.67,546.82 678.05,545.30 C676.43,543.78 677.48,542.23 676.35,540.70 C675.22,539.17 673.25,537.82 671.25,536.10 C669.25,534.38 666.73,532.10 664.35,530.40 C661.97,528.70 657.70,527.42 656.95,525.90 C656.20,524.38 657.85,523.02 659.85,521.30 C661.85,519.58 665.92,517.32 668.95,515.60 C671.98,513.88 676.25,512.90 678.05,511.00 C679.85,509.10 678.98,506.10 679.75,504.20 C680.52,502.30 680.85,501.12 682.65,499.60 C684.45,498.08 688.58,496.42 690.55,495.10 C692.52,493.78 694.07,493.03 694.45,491.70 C694.83,490.37 693.27,488.38 692.85,487.10 C692.43,485.82 692.13,484.95 691.95,484.00 C691.77,483.05 691.78,481.83 691.75,481.40 Z" fill="#e5f5e0" stroke="#333333" stroke-width="2.6" stroke-linejoin="round"/>
<line x1="695.95" y1="481.4" x2="695.95" y2="577" stroke="#7f7f7f" stroke-width="2.2"/>
<rect x="687.6" y="515.6" width="16.60" height="26.20" fill="#c7e9c0" stroke="#7f7f7f" stroke-width="2.3"/>
<line x1="687.6" y1="526.4" x2="704.2" y2="526.4" stroke="#7f7f7f" stroke-width="2.3"/>
<path d="M780.50,504.20 C780.60,504.97 780.25,507.28 781.10,508.80 C781.95,510.32 783.52,511.40 785.60,513.30 C787.68,515.20 791.12,517.92 793.60,520.20 C796.08,522.48 798.88,524.92 800.50,527.00 C802.12,529.08 802.93,530.98 803.30,532.70 C803.67,534.42 802.03,535.78 802.70,537.30 C803.37,538.82 805.78,540.38 807.30,541.80 C808.82,543.22 812.75,544.65 811.80,545.80 C810.85,546.95 805.77,547.47 801.60,548.70 C797.43,549.93 789.83,551.50 786.80,553.20 C783.77,554.90 784.55,557.00 783.40,558.90 C782.25,560.80 781.23,562.70 779.90,564.60 C778.57,566.50 775.97,568.58 775.40,570.30 C774.83,572.02 774.98,573.37 776.50,574.90 C778.02,576.43 782.03,577.98 784.50,579.50 C786.97,581.02 791.12,582.48 791.30,584.00 C791.48,585.52 788.07,587.08 785.60,588.60 C783.13,590.12 778.40,591.58 776.50,593.10 C774.60,594.62 774.73,596.22 774.20,597.70 C773.67,599.18 773.45,590.02 773.30,602.00 C773.15,613.98 772.67,657.43 773.30,669.60 C773.93,681.77 776.13,673.50 777.10,675.00 C778.07,676.50 778.60,677.23 779.10,678.60 C779.60,679.97 779.93,682.43 780.10,683.20 L766.10,683.20 C766.27,682.43 766.60,679.97 767.10,678.60 C767.60,677.23 768.13,676.50 769.10,675.00 C770.07,673.50 772.27,681.77 772.90,669.60 C773.53,657.43 773.05,613.98 772.90,602.00 C772.75,590.02 772.53,599.18 772.00,597.70 C771.47,596.22 771.60,594.62 769.70,593.10 C767.80,591.58 763.07,590.12 760.60,588.60 C758.13,587.08 754.72,585.52 754.90,584.00 C755.08,582.48 759.23,581.02 761.70,579.50 C764.17,577.98 768.18,576.43 769.70,574.90 C771.22,573.37 771.37,572.02 770.80,570.30 C770.23,568.58 767.63,566.50 766.30,564.60 C764.97,562.70 763.95,560.80 762.80,558.90 C761.65,557.00 762.43,554.90 759.40,553.20 C756.37,551.50 748.77,549.93 744.60,548.70 C740.43,547.47 735.35,546.95 734.40,545.80 C733.45,544.65 737.38,543.22 738.90,541.80 C740.42,540.38 742.83,538.82 743.50,537.30 C744.17,535.78 742.53,534.42 742.90,532.70 C743.27,530.98 744.08,529.08 745.70,527.00 C747.32,524.92 750.12,522.48 752.60,520.20 C755.08,517.92 758.52,515.20 760.60,513.30 C762.68,511.40 764.25,510.32 765.10,508.80 C765.95,507.28 765.60,504.97 765.70,504.20 Z" fill="#d0ebc9" stroke="#333333" stroke-width="2.6" stroke-linejoin="round"/>
<line x1="773.1" y1="504.2" x2="773.1" y2="592" stroke="#7f7f7f" stroke-width="2.2"/>
<rect x="764.6" y="529.9" width="16.50" height="26.80" fill="#a8dca0" stroke="#7f7f7f" stroke-width="2.3"/>
<line x1="764.6" y1="544.1" x2="781.1" y2="544.1" stroke="#7f7f7f" stroke-width="2.3"/>
<path d="M861.60,505.40 C862.20,506.12 863.98,508.18 865.20,509.70 C866.42,511.22 867.08,512.70 868.90,514.50 C870.72,516.30 874.30,518.28 876.10,520.50 C877.90,522.72 878.30,525.58 879.70,527.80 C881.10,530.02 882.97,531.78 884.50,533.80 C886.03,535.82 889.30,537.88 888.90,539.90 C888.50,541.92 883.23,543.90 882.10,545.90 C880.97,547.90 883.70,550.08 882.10,551.90 C880.50,553.72 875.72,554.78 872.50,556.80 C869.28,558.82 865.02,561.60 862.80,564.00 C860.58,566.40 859.40,568.78 859.20,571.20 C859.00,573.62 862.40,576.28 861.60,578.50 C860.80,580.72 856.00,582.68 854.40,584.50 C852.80,586.32 851.50,587.58 852.00,589.40 C852.50,591.22 857.40,593.40 857.40,595.40 C857.40,597.40 853.22,599.80 852.00,601.40 C850.78,603.00 850.42,593.73 850.10,605.00 C849.78,616.27 849.47,657.33 850.10,669.00 C850.73,680.67 852.93,673.33 853.90,675.00 C854.87,676.67 855.57,677.63 855.90,679.00 C856.23,680.37 855.90,682.50 855.90,683.20 L843.90,683.20 C843.90,682.50 843.57,680.37 843.90,679.00 C844.23,677.63 844.93,676.67 845.90,675.00 C846.87,673.33 849.07,680.67 849.70,669.00 C850.33,657.33 850.02,616.27 849.70,605.00 C849.38,593.73 849.02,603.00 847.80,601.40 C846.58,599.80 842.40,597.40 842.40,595.40 C842.40,593.40 847.30,591.22 847.80,589.40 C848.30,587.58 847.00,586.32 845.40,584.50 C843.80,582.68 839.00,580.72 838.20,578.50 C837.40,576.28 840.80,573.62 840.60,571.20 C840.40,568.78 839.22,566.40 837.00,564.00 C834.78,561.60 830.52,558.82 827.30,556.80 C824.08,554.78 819.30,553.72 817.70,551.90 C816.10,550.08 818.83,547.90 817.70,545.90 C816.57,543.90 811.30,541.92 810.90,539.90 C810.50,537.88 813.77,535.82 815.30,533.80 C816.83,531.78 818.70,530.02 820.10,527.80 C821.50,525.58 821.90,522.72 823.70,520.50 C825.50,518.28 829.08,516.30 830.90,514.50 C832.72,512.70 833.38,511.22 834.60,509.70 C835.82,508.18 837.60,506.12 838.20,505.40 Z" fill="#b8e0b8" stroke="#333333" stroke-width="2.6" stroke-linejoin="round"/>
<line x1="849.9" y1="505.4" x2="849.9" y2="596" stroke="#7f7f7f" stroke-width="2.2"/>
<rect x="841.7" y="526.6" width="16.90" height="28.30" fill="#80c980" stroke="#7f7f7f" stroke-width="2.3"/>
<line x1="841.7" y1="543.2" x2="858.6" y2="543.2" stroke="#7f7f7f" stroke-width="2.3"/>
<path d="M937.00,474.70 C936.50,475.70 935.20,478.30 934.00,480.70 C932.80,483.10 930.20,486.68 929.80,489.10 C929.40,491.52 929.90,492.78 931.60,495.20 C933.30,497.62 936.98,500.58 940.00,503.60 C943.02,506.62 946.48,510.68 949.70,513.30 C952.92,515.92 956.58,516.68 959.30,519.30 C962.02,521.92 966.20,525.98 966.00,529.00 C965.80,532.02 960.32,534.38 958.10,537.40 C955.88,540.42 952.90,544.08 952.70,547.10 C952.50,550.12 955.40,552.88 956.90,555.50 C958.40,558.12 961.90,560.38 961.70,562.80 C961.50,565.22 958.92,567.38 955.70,570.00 C952.48,572.62 944.82,575.88 942.40,578.50 C939.98,581.12 940.80,582.88 941.20,585.70 C941.60,588.52 943.88,592.18 944.80,595.40 C945.72,598.62 946.38,603.40 946.70,605.00 L907.50,605.00 C907.82,603.40 908.48,598.62 909.40,595.40 C910.32,592.18 912.60,588.52 913.00,585.70 C913.40,582.88 914.22,581.12 911.80,578.50 C909.38,575.88 901.72,572.62 898.50,570.00 C895.28,567.38 892.70,565.22 892.50,562.80 C892.30,560.38 895.80,558.12 897.30,555.50 C898.80,552.88 901.70,550.12 901.50,547.10 C901.30,544.08 898.32,540.42 896.10,537.40 C893.88,534.38 888.40,532.02 888.20,529.00 C888.00,525.98 892.18,521.92 894.90,519.30 C897.62,516.68 901.28,515.92 904.50,513.30 C907.72,510.68 911.18,506.62 914.20,503.60 C917.22,500.58 920.90,497.62 922.60,495.20 C924.30,492.78 924.80,491.52 924.40,489.10 C924.00,486.68 921.40,483.10 920.20,480.70 C919.00,478.30 917.70,475.70 917.20,474.70 Z" fill="#a1d6a9" stroke="#333333" stroke-width="2.6" stroke-linejoin="round"/>
<line x1="927.1" y1="474.7" x2="927.1" y2="605" stroke="#7f7f7f" stroke-width="2.2"/>
<rect x="918.9" y="524.8" width="16.30" height="42.80" fill="#5db56e" stroke="#7f7f7f" stroke-width="2.3"/>
<line x1="918.9" y1="546.5" x2="935.2" y2="546.5" stroke="#7f7f7f" stroke-width="2.3"/>
<line x1="645" y1="467.2" x2="645" y2="695.4" stroke="#000" stroke-width="3.5"/>
<line x1="643.3" y1="693.7" x2="981.3" y2="693.7" stroke="#000" stroke-width="3.5"/>
<line x1="646.7" y1="505.6" x2="650" y2="505.6" stroke="#333333" stroke-width="1.6"/>
<text x="595.25" y="512.20" font-size="33" fill="#1a1a1a">7.5</text>
<line x1="646.7" y1="565.6" x2="650" y2="565.6" stroke="#333333" stroke-width="1.6"/>
<text x="595.17" y="572.20" font-size="33" fill="#1a1a1a">5.0</text>
<line x1="646.7" y1="625" x2="650" y2="625" stroke="#333333" stroke-width="1.6"/>
<text x="595.25" y="631.60" font-size="33" fill="#1a1a1a">2.5</text>
<line x1="646.7" y1="684.3" x2="650" y2="684.3" stroke="#333333" stroke-width="1.6"/>
<text x="595.17" y="690.90" font-size="33" fill="#1a1a1a">0.0</text>
<text x="576.80" y="671.96" font-size="31" fill="#1a1a1a" transform="rotate(-90 576.80 671.96)">log2 FPKM</text>
<line x1="695.8" y1="695.4" x2="695.8" y2="698.6" stroke="#333333" stroke-width="2"/>
<text x="693.90" y="729.00" font-size="32.5" text-anchor="middle" fill="#1a1a1a">S1</text>
<line x1="773.1" y1="695.4" x2="773.1" y2="698.6" stroke="#333333" stroke-width="2"/>
<text x="776.20" y="729.00" font-size="32.5" text-anchor="middle" fill="#1a1a1a">S2</text>
<line x1="850.1" y1="695.4" x2="850.1" y2="698.6" stroke="#333333" stroke-width="2"/>
<text x="855.40" y="729.00" font-size="32.5" text-anchor="middle" fill="#1a1a1a">S3</text>
<line x1="926.8" y1="695.4" x2="926.8" y2="698.6" stroke="#333333" stroke-width="2"/>
<text x="937.60" y="729.00" font-size="32.5" text-anchor="middle" fill="#1a1a1a">S4</text>
<circle cx="695.4" cy="579" r="2.5" fill="#e0e0e0"/>
<circle cx="695.4" cy="605.6" r="2.5" fill="#e0e0e0"/>
<circle cx="695.4" cy="673" r="2.5" fill="#e0e0e0"/>
<circle cx="772.4" cy="683" r="2.5" fill="#e0e0e0"/>
<circle cx="849.4" cy="683" r="2.5" fill="#e0e0e0"/>
<text x="1175.31" y="448.90" font-size="31.3" fill="#1a1a1a">KICH (chRCC)</text>
<path d="M1144.50,475.90 C1143.80,476.88 1141.55,479.70 1140.30,481.80 C1139.05,483.90 1137.55,485.98 1137.00,488.50 C1136.45,491.02 1136.45,494.82 1137.00,496.90 C1137.55,498.98 1137.78,499.33 1140.30,501.00 C1142.82,502.67 1149.30,504.80 1152.10,506.90 C1154.90,509.00 1156.13,511.08 1157.10,513.60 C1158.07,516.12 1157.62,519.48 1157.90,522.00 C1158.18,524.52 1157.82,527.02 1158.80,528.70 C1159.78,530.38 1161.05,530.42 1163.80,532.10 C1166.55,533.78 1175.02,536.57 1175.30,538.80 C1175.58,541.03 1169.65,543.27 1165.50,545.50 C1161.35,547.73 1153.75,549.97 1150.40,552.20 C1147.05,554.43 1146.38,556.67 1145.40,558.90 C1144.42,561.13 1145.35,563.37 1144.50,565.60 C1143.65,567.83 1141.62,570.07 1140.30,572.30 C1138.98,574.53 1137.02,576.77 1136.60,579.00 C1136.18,581.23 1136.90,583.73 1137.80,585.70 C1138.70,587.67 1140.88,589.53 1142.00,590.80 C1143.12,592.07 1144.08,592.88 1144.50,593.30 L1127.10,593.30 C1127.52,592.88 1128.48,592.07 1129.60,590.80 C1130.72,589.53 1132.90,587.67 1133.80,585.70 C1134.70,583.73 1135.42,581.23 1135.00,579.00 C1134.58,576.77 1132.62,574.53 1131.30,572.30 C1129.98,570.07 1127.95,567.83 1127.10,565.60 C1126.25,563.37 1127.18,561.13 1126.20,558.90 C1125.22,556.67 1124.55,554.43 1121.20,552.20 C1117.85,549.97 1110.25,547.73 1106.10,545.50 C1101.95,543.27 1096.02,541.03 1096.30,538.80 C1096.58,536.57 1105.05,533.78 1107.80,532.10 C1110.55,530.42 1111.82,530.38 1112.80,528.70 C1113.78,527.02 1113.42,524.52 1113.70,522.00 C1113.98,519.48 1113.53,516.12 1114.50,513.60 C1115.47,511.08 1116.70,509.00 1119.50,506.90 C1122.30,504.80 1128.78,502.67 1131.30,501.00 C1133.82,499.33 1134.05,498.98 1134.60,496.90 C1135.15,494.82 1135.15,491.02 1134.60,488.50 C1134.05,485.98 1132.55,483.90 1131.30,481.80 C1130.05,479.70 1127.80,476.88 1127.10,475.90 Z" fill="#e5f5e0" stroke="#333333" stroke-width="2.6" stroke-linejoin="round"/>
<line x1="1135.8" y1="508.6" x2="1135.8" y2="567.3" stroke="#7f7f7f" stroke-width="2.2"/>
<rect x="1127.7" y="522.8" width="16.80" height="24.40" fill="#c7e9c0" stroke="#7f7f7f" stroke-width="2.3"/>
<line x1="1127.7" y1="537.1" x2="1144.5" y2="537.1" stroke="#7f7f7f" stroke-width="2.3"/>
<path d="M1223.30,474.20 C1223.72,475.47 1224.27,479.13 1225.80,481.80 C1227.33,484.47 1229.70,487.42 1232.50,490.20 C1235.30,492.98 1239.67,495.43 1242.60,498.50 C1245.53,501.57 1248.15,504.97 1250.10,508.60 C1252.05,512.23 1253.32,515.83 1254.30,520.30 C1255.28,524.77 1255.72,531.20 1256.00,535.40 C1256.28,539.60 1257.12,542.15 1256.00,545.50 C1254.88,548.85 1252.65,552.15 1249.30,555.50 C1245.95,558.85 1238.83,562.52 1235.90,565.60 C1232.97,568.68 1232.68,570.65 1231.70,574.00 C1230.72,577.35 1230.98,582.07 1230.00,585.70 C1229.02,589.33 1227.33,592.17 1225.80,595.80 C1224.27,599.43 1222.05,603.58 1220.80,607.50 C1219.55,611.42 1218.83,615.68 1218.30,619.30 C1217.77,622.92 1217.22,626.08 1217.60,629.20 C1217.98,632.32 1219.43,635.12 1220.60,638.00 C1221.77,640.88 1223.43,643.67 1224.60,646.50 C1225.77,649.33 1226.60,652.12 1227.60,655.00 C1228.60,657.88 1230.02,660.97 1230.60,663.80 C1231.18,666.63 1231.10,668.87 1231.10,672.00 C1231.10,675.13 1230.68,680.83 1230.60,682.60 L1202.60,682.60 C1202.52,680.83 1202.10,675.13 1202.10,672.00 C1202.10,668.87 1202.02,666.63 1202.60,663.80 C1203.18,660.97 1204.60,657.88 1205.60,655.00 C1206.60,652.12 1207.43,649.33 1208.60,646.50 C1209.77,643.67 1211.43,640.88 1212.60,638.00 C1213.77,635.12 1215.22,632.32 1215.60,629.20 C1215.98,626.08 1215.43,622.92 1214.90,619.30 C1214.37,615.68 1213.65,611.42 1212.40,607.50 C1211.15,603.58 1208.93,599.43 1207.40,595.80 C1205.87,592.17 1204.18,589.33 1203.20,585.70 C1202.22,582.07 1202.48,577.35 1201.50,574.00 C1200.52,570.65 1200.23,568.68 1197.30,565.60 C1194.37,562.52 1187.25,558.85 1183.90,555.50 C1180.55,552.15 1178.32,548.85 1177.20,545.50 C1176.08,542.15 1176.92,539.60 1177.20,535.40 C1177.48,531.20 1177.92,524.77 1178.90,520.30 C1179.88,515.83 1181.15,512.23 1183.10,508.60 C1185.05,504.97 1187.67,501.57 1190.60,498.50 C1193.53,495.43 1197.90,492.98 1200.70,490.20 C1203.50,487.42 1205.87,484.47 1207.40,481.80 C1208.93,479.13 1209.48,475.47 1209.90,474.20 Z" fill="#d0ebc9" stroke="#333333" stroke-width="2.6" stroke-linejoin="round"/>
<line x1="1216.6" y1="475.8" x2="1216.6" y2="663" stroke="#7f7f7f" stroke-width="2.2"/>
<rect x="1207.4" y="517.8" width="17.60" height="62.10" fill="#a8dca0" stroke="#7f7f7f" stroke-width="2.3"/>
<line x1="1207.4" y1="544.6" x2="1225" y2="544.6" stroke="#7f7f7f" stroke-width="2.3"/>
<path d="M1307.10,496.90 C1306.13,497.73 1302.68,500.37 1301.30,501.90 C1299.92,503.43 1297.83,504.57 1298.80,506.10 C1299.77,507.63 1305.98,509.57 1307.10,511.10 C1308.22,512.63 1306.05,513.77 1305.50,515.30 C1304.95,516.83 1303.67,518.62 1303.80,520.30 C1303.93,521.98 1306.17,523.72 1306.30,525.40 C1306.43,527.08 1302.63,528.73 1304.60,530.40 C1306.57,532.07 1312.72,533.30 1318.10,535.40 C1323.48,537.50 1336.07,540.77 1336.90,543.00 C1337.73,545.23 1326.80,546.98 1323.10,548.80 C1319.40,550.62 1315.82,552.22 1314.70,553.90 C1313.58,555.58 1317.80,556.95 1316.40,558.90 C1315.00,560.85 1308.95,563.37 1306.30,565.60 C1303.65,567.83 1300.37,569.50 1300.50,572.30 C1300.63,575.10 1307.10,579.60 1307.10,582.40 C1307.10,585.20 1302.00,587.15 1300.50,589.10 C1299.00,591.05 1298.42,590.47 1298.10,594.10 C1297.78,597.73 1297.78,606.98 1298.60,610.90 C1299.42,614.82 1301.58,615.50 1303.00,617.60 C1304.42,619.70 1306.42,622.52 1307.10,623.50 L1287.10,623.50 C1287.78,622.52 1289.78,619.70 1291.20,617.60 C1292.62,615.50 1294.78,614.82 1295.60,610.90 C1296.42,606.98 1296.42,597.73 1296.10,594.10 C1295.78,590.47 1295.20,591.05 1293.70,589.10 C1292.20,587.15 1287.10,585.20 1287.10,582.40 C1287.10,579.60 1293.57,575.10 1293.70,572.30 C1293.83,569.50 1290.55,567.83 1287.90,565.60 C1285.25,563.37 1279.20,560.85 1277.80,558.90 C1276.40,556.95 1280.62,555.58 1279.50,553.90 C1278.38,552.22 1274.80,550.62 1271.10,548.80 C1267.40,546.98 1256.47,545.23 1257.30,543.00 C1258.13,540.77 1270.72,537.50 1276.10,535.40 C1281.48,533.30 1287.63,532.07 1289.60,530.40 C1291.57,528.73 1287.77,527.08 1287.90,525.40 C1288.03,523.72 1290.27,521.98 1290.40,520.30 C1290.53,518.62 1289.25,516.83 1288.70,515.30 C1288.15,513.77 1285.98,512.63 1287.10,511.10 C1288.22,509.57 1294.43,507.63 1295.40,506.10 C1296.37,504.57 1294.28,503.43 1292.90,501.90 C1291.52,500.37 1288.07,497.73 1287.10,496.90 Z" fill="#b8e0b8" stroke="#333333" stroke-width="2.6" stroke-linejoin="round"/>
<line x1="1297.1" y1="514.5" x2="1297.1" y2="583.2" stroke="#7f7f7f" stroke-width="2.2"/>
<rect x="1288.7" y="536.3" width="16.80" height="20.10" fill="#80c980" stroke="#7f7f7f" stroke-width="2.3"/>
<line x1="1288.7" y1="543.8" x2="1305.5" y2="543.8" stroke="#7f7f7f" stroke-width="2.3"/>
<path d="M1406.80,542.70 C1407.53,543.58 1409.80,546.08 1411.20,548.00 C1412.60,549.92 1414.20,551.23 1415.20,554.20 C1416.20,557.17 1417.37,562.33 1417.20,565.80 C1417.03,569.27 1415.53,572.12 1414.20,575.00 C1412.87,577.88 1411.20,579.77 1409.20,583.10 C1407.20,586.43 1404.53,591.17 1402.20,595.00 C1399.87,598.83 1397.03,602.43 1395.20,606.10 C1393.37,609.77 1392.20,613.15 1391.20,617.00 C1390.20,620.85 1389.03,625.37 1389.20,629.20 C1389.37,633.03 1390.87,636.15 1392.20,640.00 C1393.53,643.85 1395.37,648.97 1397.20,652.30 C1399.03,655.63 1401.03,657.12 1403.20,660.00 C1405.37,662.88 1408.87,667.10 1410.20,669.60 C1411.53,672.10 1411.03,673.08 1411.20,675.00 C1411.37,676.92 1411.20,680.08 1411.20,681.10 L1343.20,681.10 C1343.20,680.08 1343.03,676.92 1343.20,675.00 C1343.37,673.08 1342.87,672.10 1344.20,669.60 C1345.53,667.10 1349.03,662.88 1351.20,660.00 C1353.37,657.12 1355.37,655.63 1357.20,652.30 C1359.03,648.97 1360.87,643.85 1362.20,640.00 C1363.53,636.15 1365.03,633.03 1365.20,629.20 C1365.37,625.37 1364.20,620.85 1363.20,617.00 C1362.20,613.15 1361.03,609.77 1359.20,606.10 C1357.37,602.43 1354.53,598.83 1352.20,595.00 C1349.87,591.17 1347.20,586.43 1345.20,583.10 C1343.20,579.77 1341.53,577.88 1340.20,575.00 C1338.87,572.12 1337.37,569.27 1337.20,565.80 C1337.03,562.33 1338.20,557.17 1339.20,554.20 C1340.20,551.23 1341.80,549.92 1343.20,548.00 C1344.60,546.08 1346.87,543.58 1347.60,542.70 Z" fill="#a1d6a9" stroke="#333333" stroke-width="2.6" stroke-linejoin="round"/>
<line x1="1377.2" y1="542.7" x2="1377.2" y2="681.1" stroke="#7f7f7f" stroke-width="2.2"/>
<rect x="1368.5" y="567.8" width="17.30" height="95.40" fill="#5db56e" stroke="#7f7f7f" stroke-width="2.3"/>
<line x1="1368.5" y1="596.6" x2="1385.8" y2="596.6" stroke="#7f7f7f" stroke-width="2.3"/>
<line x1="1084" y1="467.2" x2="1084" y2="695.4" stroke="#000" stroke-width="3.6"/>
<line x1="1082.2" y1="693.6" x2="1419.6" y2="693.6" stroke="#000" stroke-width="3.6"/>
<text x="1057.89" y="509.00" font-size="33" fill="#1a1a1a">6</text>
<text x="1057.39" y="569.20" font-size="33" fill="#1a1a1a">4</text>
<text x="1058.13" y="629.20" font-size="33" fill="#1a1a1a">2</text>
<text x="1057.72" y="689.00" font-size="33" fill="#1a1a1a">0</text>
<line x1="1136" y1="695.4" x2="1136" y2="698.4" stroke="#333333" stroke-width="2"/>
<text x="1138.40" y="731.60" font-size="32.5" text-anchor="middle" fill="#1a1a1a">S1</text>
<line x1="1216.2" y1="695.4" x2="1216.2" y2="698.4" stroke="#333333" stroke-width="2"/>
<text x="1221.50" y="731.60" font-size="32.5" text-anchor="middle" fill="#1a1a1a">S2</text>
<line x1="1296.4" y1="695.4" x2="1296.4" y2="698.4" stroke="#333333" stroke-width="2"/>
<text x="1300.60" y="731.60" font-size="32.5" text-anchor="middle" fill="#1a1a1a">S3</text>
<line x1="1377.2" y1="695.4" x2="1377.2" y2="698.4" stroke="#333333" stroke-width="2"/>
<text x="1383.00" y="731.60" font-size="32.5" text-anchor="middle" fill="#1a1a1a">S4</text>
<text x="1044.80" y="663.66" font-size="31" fill="#1a1a1a" transform="rotate(-90 1044.80 663.66)">log2 FPKM</text>
<circle cx="1136" cy="476" r="2.5" fill="#e0e0e0"/>
<circle cx="1136" cy="593.5" r="2.5" fill="#e0e0e0"/>
<circle cx="1216.2" cy="682" r="2.5" fill="#e0e0e0"/>
<circle cx="1296.4" cy="497" r="2.5" fill="#e0e0e0"/>
<circle cx="1296.4" cy="622.5" r="2.5" fill="#e0e0e0"/>
<text x="-1.30" y="914.90" font-size="32.6" font-weight="bold">c</text>
<text x="335.63" y="940.40" font-size="33">HEK293T</text>
<line x1="115" y1="959.5" x2="115" y2="1368.5" stroke="#000" stroke-width="3.7"/>
<line x1="113.2" y1="1351.7" x2="703.4" y2="1351.7" stroke="#000" stroke-width="4"/>
<line x1="98.7" y1="961.3" x2="115" y2="961.3" stroke="#000" stroke-width="3.6"/>
<text x="77.85" y="972.40" font-size="30">5</text>
<line x1="98.7" y1="1054.9" x2="115" y2="1054.9" stroke="#000" stroke-width="3.6"/>
<text x="77.47" y="1066.00" font-size="30">4</text>
<line x1="98.7" y1="1148.3" x2="115" y2="1148.3" stroke="#000" stroke-width="3.6"/>
<text x="77.92" y="1159.40" font-size="30">3</text>
<line x1="98.7" y1="1241.4" x2="115" y2="1241.4" stroke="#000" stroke-width="3.6"/>
<text x="78.15" y="1252.50" font-size="30">2</text>
<line x1="98.7" y1="1334.6" x2="115" y2="1334.6" stroke="#000" stroke-width="3.6"/>
<text x="78.08" y="1345.70" font-size="30">1</text>
<line x1="115.00" y1="1351" x2="115.00" y2="1368.5" stroke="#000" stroke-width="3.7"/>
<text x="107.00" y="1401.50" font-size="30.5">0</text>
<line x1="232.35" y1="1351" x2="232.35" y2="1368.5" stroke="#000" stroke-width="3.7"/>
<text x="215.35" y="1401.50" font-size="30.5">10</text>
<line x1="349.70" y1="1351" x2="349.70" y2="1368.5" stroke="#000" stroke-width="3.7"/>
<text x="333.08" y="1401.50" font-size="30.5">20</text>
<line x1="467.05" y1="1351" x2="467.05" y2="1368.5" stroke="#000" stroke-width="3.7"/>
<text x="450.62" y="1401.50" font-size="30.5">30</text>
<line x1="584.40" y1="1351" x2="584.40" y2="1368.5" stroke="#000" stroke-width="3.7"/>
<text x="568.20" y="1401.50" font-size="30.5">40</text>
<line x1="701.75" y1="1351" x2="701.75" y2="1368.5" stroke="#000" stroke-width="3.7"/>
<text x="685.28" y="1401.50" font-size="30.5">50</text>
<text x="338.39" y="1448.60" font-size="33">hours [h]</text>
<text x="53.20" y="1241.89" font-size="32.8" transform="rotate(-90 53.20 1241.89)">fold change</text>
<circle cx="166.30" cy="995.90" r="8" fill="#000"/>
<text x="185.04" y="1004.70" font-size="33.5">EGFP</text>
<rect x="158.70" y="1048.40" width="15.20" height="15.20" rx="2.2" fill="#40ff40" fill-opacity="1" stroke="#000" stroke-width="3.6"/>
<text x="185.04" y="1066.50" font-size="33.5">FAME-EGFP</text>
<line x1="237.25" y1="1298.80" x2="237.25" y2="1289.00" stroke="#000" stroke-width="1.9"/>
<line x1="229.45" y1="1289.00" x2="245.05" y2="1289.00" stroke="#000" stroke-width="1.9"/>
<line x1="261.70" y1="1295.40" x2="261.70" y2="1282.90" stroke="#000" stroke-width="1.9"/>
<line x1="253.90" y1="1282.90" x2="269.50" y2="1282.90" stroke="#000" stroke-width="1.9"/>
<line x1="286.15" y1="1286.50" x2="286.15" y2="1271.20" stroke="#000" stroke-width="1.9"/>
<line x1="278.35" y1="1271.20" x2="293.95" y2="1271.20" stroke="#000" stroke-width="1.9"/>
<line x1="310.60" y1="1284.60" x2="310.60" y2="1268.50" stroke="#000" stroke-width="1.9"/>
<line x1="302.80" y1="1268.50" x2="318.40" y2="1268.50" stroke="#000" stroke-width="1.9"/>
<line x1="335.05" y1="1279.00" x2="335.05" y2="1261.60" stroke="#000" stroke-width="1.9"/>
<line x1="327.25" y1="1261.60" x2="342.85" y2="1261.60" stroke="#000" stroke-width="1.9"/>
<line x1="359.50" y1="1276.30" x2="359.50" y2="1259.40" stroke="#000" stroke-width="1.9"/>
<line x1="351.70" y1="1259.40" x2="367.30" y2="1259.40" stroke="#000" stroke-width="1.9"/>
<line x1="383.95" y1="1271.80" x2="383.95" y2="1252.20" stroke="#000" stroke-width="1.9"/>
<line x1="376.15" y1="1252.20" x2="391.75" y2="1252.20" stroke="#000" stroke-width="1.9"/>
<line x1="408.40" y1="1269.60" x2="408.40" y2="1250.00" stroke="#000" stroke-width="1.9"/>
<line x1="400.60" y1="1250.00" x2="416.20" y2="1250.00" stroke="#000" stroke-width="1.9"/>
<line x1="432.85" y1="1265.60" x2="432.85" y2="1244.90" stroke="#000" stroke-width="1.9"/>
<line x1="425.05" y1="1244.90" x2="440.65" y2="1244.90" stroke="#000" stroke-width="1.9"/>
<line x1="457.30" y1="1265.60" x2="457.30" y2="1244.90" stroke="#000" stroke-width="1.9"/>
<line x1="449.50" y1="1244.90" x2="465.10" y2="1244.90" stroke="#000" stroke-width="1.9"/>
<line x1="481.75" y1="1261.60" x2="481.75" y2="1239.60" stroke="#000" stroke-width="1.9"/>
<line x1="473.95" y1="1239.60" x2="489.55" y2="1239.60" stroke="#000" stroke-width="1.9"/>
<line x1="506.20" y1="1261.00" x2="506.20" y2="1238.80" stroke="#000" stroke-width="1.9"/>
<line x1="498.40" y1="1238.80" x2="514.00" y2="1238.80" stroke="#000" stroke-width="1.9"/>
<line x1="530.65" y1="1259.70" x2="530.65" y2="1236.90" stroke="#000" stroke-width="1.9"/>
<line x1="522.85" y1="1236.90" x2="538.45" y2="1236.90" stroke="#000" stroke-width="1.9"/>
<line x1="555.10" y1="1261.60" x2="555.10" y2="1238.20" stroke="#000" stroke-width="1.9"/>
<line x1="547.30" y1="1238.20" x2="562.90" y2="1238.20" stroke="#000" stroke-width="1.9"/>
<line x1="579.55" y1="1259.70" x2="579.55" y2="1236.10" stroke="#000" stroke-width="1.9"/>
<line x1="571.75" y1="1236.10" x2="587.35" y2="1236.10" stroke="#000" stroke-width="1.9"/>
<line x1="604.00" y1="1260.80" x2="604.00" y2="1236.90" stroke="#000" stroke-width="1.9"/>
<line x1="596.20" y1="1236.90" x2="611.80" y2="1236.90" stroke="#000" stroke-width="1.9"/>
<line x1="628.45" y1="1258.90" x2="628.45" y2="1234.20" stroke="#000" stroke-width="1.9"/>
<line x1="620.65" y1="1234.20" x2="636.25" y2="1234.20" stroke="#000" stroke-width="1.9"/>
<line x1="652.90" y1="1262.80" x2="652.90" y2="1239.10" stroke="#000" stroke-width="1.9"/>
<line x1="645.10" y1="1239.10" x2="660.70" y2="1239.10" stroke="#000" stroke-width="1.9"/>
<line x1="677.35" y1="1260.40" x2="677.35" y2="1236.40" stroke="#000" stroke-width="1.9"/>
<line x1="669.55" y1="1236.40" x2="685.15" y2="1236.40" stroke="#000" stroke-width="1.9"/>
<line x1="701.80" y1="1262.80" x2="701.80" y2="1238.80" stroke="#000" stroke-width="1.9"/>
<line x1="694.00" y1="1238.80" x2="709.60" y2="1238.80" stroke="#000" stroke-width="1.9"/>
<line x1="212.80" y1="1257.30" x2="212.80" y2="1249.20" stroke="#000" stroke-width="1.9"/>
<line x1="205.00" y1="1249.20" x2="220.60" y2="1249.20" stroke="#000" stroke-width="1.9"/>
<line x1="237.25" y1="1239.60" x2="237.25" y2="1231.00" stroke="#000" stroke-width="1.9"/>
<line x1="229.45" y1="1231.00" x2="245.05" y2="1231.00" stroke="#000" stroke-width="1.9"/>
<line x1="261.70" y1="1225.00" x2="261.70" y2="1214.90" stroke="#000" stroke-width="1.9"/>
<line x1="253.90" y1="1214.90" x2="269.50" y2="1214.90" stroke="#000" stroke-width="1.9"/>
<line x1="286.15" y1="1210.90" x2="286.15" y2="1199.30" stroke="#000" stroke-width="1.9"/>
<line x1="278.35" y1="1199.30" x2="293.95" y2="1199.30" stroke="#000" stroke-width="1.9"/>
<line x1="310.60" y1="1197.40" x2="310.60" y2="1184.00" stroke="#000" stroke-width="1.9"/>
<line x1="302.80" y1="1184.00" x2="318.40" y2="1184.00" stroke="#000" stroke-width="1.9"/>
<line x1="335.05" y1="1185.10" x2="335.05" y2="1170.40" stroke="#000" stroke-width="1.9"/>
<line x1="327.25" y1="1170.40" x2="342.85" y2="1170.40" stroke="#000" stroke-width="1.9"/>
<line x1="359.50" y1="1171.70" x2="359.50" y2="1157.70" stroke="#000" stroke-width="1.9"/>
<line x1="351.70" y1="1157.70" x2="367.30" y2="1157.70" stroke="#000" stroke-width="1.9"/>
<line x1="383.95" y1="1161.50" x2="383.95" y2="1146.20" stroke="#000" stroke-width="1.9"/>
<line x1="376.15" y1="1146.20" x2="391.75" y2="1146.20" stroke="#000" stroke-width="1.9"/>
<line x1="408.40" y1="1150.20" x2="408.40" y2="1134.10" stroke="#000" stroke-width="1.9"/>
<line x1="400.60" y1="1134.10" x2="416.20" y2="1134.10" stroke="#000" stroke-width="1.9"/>
<line x1="432.85" y1="1139.50" x2="432.85" y2="1122.60" stroke="#000" stroke-width="1.9"/>
<line x1="425.05" y1="1122.60" x2="440.65" y2="1122.60" stroke="#000" stroke-width="1.9"/>
<line x1="457.30" y1="1130.10" x2="457.30" y2="1111.30" stroke="#000" stroke-width="1.9"/>
<line x1="449.50" y1="1111.30" x2="465.10" y2="1111.30" stroke="#000" stroke-width="1.9"/>
<line x1="481.75" y1="1118.80" x2="481.75" y2="1099.30" stroke="#000" stroke-width="1.9"/>
<line x1="473.95" y1="1099.30" x2="489.55" y2="1099.30" stroke="#000" stroke-width="1.9"/>
<line x1="506.20" y1="1109.50" x2="506.20" y2="1089.10" stroke="#000" stroke-width="1.9"/>
<line x1="498.40" y1="1089.10" x2="514.00" y2="1089.10" stroke="#000" stroke-width="1.9"/>
<line x1="530.65" y1="1100.90" x2="530.65" y2="1079.40" stroke="#000" stroke-width="1.9"/>
<line x1="522.85" y1="1079.40" x2="538.45" y2="1079.40" stroke="#000" stroke-width="1.9"/>
<line x1="555.10" y1="1092.60" x2="555.10" y2="1069.80" stroke="#000" stroke-width="1.9"/>
<line x1="547.30" y1="1069.80" x2="562.90" y2="1069.80" stroke="#000" stroke-width="1.9"/>
<line x1="579.55" y1="1084.80" x2="579.55" y2="1060.40" stroke="#000" stroke-width="1.9"/>
<line x1="571.75" y1="1060.40" x2="587.35" y2="1060.40" stroke="#000" stroke-width="1.9"/>
<line x1="604.00" y1="1077.30" x2="604.00" y2="1050.40" stroke="#000" stroke-width="1.9"/>
<line x1="596.20" y1="1050.40" x2="611.80" y2="1050.40" stroke="#000" stroke-width="1.9"/>
<line x1="628.45" y1="1070.60" x2="628.45" y2="1042.90" stroke="#000" stroke-width="1.9"/>
<line x1="620.65" y1="1042.90" x2="636.25" y2="1042.90" stroke="#000" stroke-width="1.9"/>
<line x1="652.90" y1="1066.10" x2="652.90" y2="1036.80" stroke="#000" stroke-width="1.9"/>
<line x1="645.10" y1="1036.80" x2="660.70" y2="1036.80" stroke="#000" stroke-width="1.9"/>
<line x1="677.35" y1="1061.00" x2="677.35" y2="1030.90" stroke="#000" stroke-width="1.9"/>
<line x1="669.55" y1="1030.90" x2="685.15" y2="1030.90" stroke="#000" stroke-width="1.9"/>
<line x1="701.80" y1="1057.00" x2="701.80" y2="1025.50" stroke="#000" stroke-width="1.9"/>
<line x1="694.00" y1="1025.50" x2="709.60" y2="1025.50" stroke="#000" stroke-width="1.9"/>
<polyline points="115.00,1334.80 139.45,1312.30 163.90,1294.00 188.35,1275.20 212.80,1257.30 237.25,1239.60 261.70,1225.00 286.15,1210.90 310.60,1197.40 335.05,1185.10 359.50,1171.70 383.95,1161.50 408.40,1150.20 432.85,1139.50 457.30,1130.10 481.75,1118.80 506.20,1109.50 530.65,1100.90 555.10,1092.60 579.55,1084.80 604.00,1077.30 628.45,1070.60 652.90,1066.10 677.35,1061.00 701.80,1057.00" fill="none" stroke="#000" stroke-width="2.0" stroke-linejoin="round"/>
<polyline points="115.00,1334.80 139.45,1330.40 163.90,1322.50 188.35,1313.30 212.80,1307.40 237.25,1298.80 261.70,1295.40 286.15,1286.50 310.60,1284.60 335.05,1279.00 359.50,1276.30 383.95,1271.80 408.40,1269.60 432.85,1265.60 457.30,1265.60 481.75,1261.60 506.20,1261.00 530.65,1259.70 555.10,1261.60 579.55,1259.70 604.00,1260.80 628.45,1258.90 652.90,1262.80 677.35,1260.40 701.80,1262.80" fill="none" stroke="#000" stroke-width="2.0" stroke-linejoin="round"/>
<circle cx="115.00" cy="1334.80" r="7.8" fill="#000"/>
<circle cx="139.45" cy="1312.30" r="7.8" fill="#000"/>
<circle cx="163.90" cy="1294.00" r="7.8" fill="#000"/>
<circle cx="188.35" cy="1275.20" r="7.8" fill="#000"/>
<circle cx="212.80" cy="1257.30" r="7.8" fill="#000"/>
<circle cx="237.25" cy="1239.60" r="7.8" fill="#000"/>
<circle cx="261.70" cy="1225.00" r="7.8" fill="#000"/>
<circle cx="286.15" cy="1210.90" r="7.8" fill="#000"/>
<circle cx="310.60" cy="1197.40" r="7.8" fill="#000"/>
<circle cx="335.05" cy="1185.10" r="7.8" fill="#000"/>
<circle cx="359.50" cy="1171.70" r="7.8" fill="#000"/>
<circle cx="383.95" cy="1161.50" r="7.8" fill="#000"/>
<circle cx="408.40" cy="1150.20" r="7.8" fill="#000"/>
<circle cx="432.85" cy="1139.50" r="7.8" fill="#000"/>
<circle cx="457.30" cy="1130.10" r="7.8" fill="#000"/>
<circle cx="481.75" cy="1118.80" r="7.8" fill="#000"/>
<circle cx="506.20" cy="1109.50" r="7.8" fill="#000"/>
<circle cx="530.65" cy="1100.90" r="7.8" fill="#000"/>
<circle cx="555.10" cy="1092.60" r="7.8" fill="#000"/>
<circle cx="579.55" cy="1084.80" r="7.8" fill="#000"/>
<circle cx="604.00" cy="1077.30" r="7.8" fill="#000"/>
<circle cx="628.45" cy="1070.60" r="7.8" fill="#000"/>
<circle cx="652.90" cy="1066.10" r="7.8" fill="#000"/>
<circle cx="677.35" cy="1061.00" r="7.8" fill="#000"/>
<circle cx="701.80" cy="1057.00" r="7.8" fill="#000"/>
<rect x="107.20" y="1327.00" width="15.60" height="15.60" rx="2.2" fill="#000" fill-opacity="1" stroke="#000" stroke-width="3.6"/>
<rect x="131.65" y="1322.60" width="15.60" height="15.60" rx="2.2" fill="#40ff40" fill-opacity="1" stroke="#000" stroke-width="3.6"/>
<rect x="156.10" y="1314.70" width="15.60" height="15.60" rx="2.2" fill="#40ff40" fill-opacity="1" stroke="#000" stroke-width="3.6"/>
<rect x="180.55" y="1305.50" width="15.60" height="15.60" rx="2.2" fill="#40ff40" fill-opacity="1" stroke="#000" stroke-width="3.6"/>
<rect x="205.00" y="1299.60" width="15.60" height="15.60" rx="2.2" fill="#40ff40" fill-opacity="1" stroke="#000" stroke-width="3.6"/>
<rect x="229.45" y="1291.00" width="15.60" height="15.60" rx="2.2" fill="#40ff40" fill-opacity="1" stroke="#000" stroke-width="3.6"/>
<rect x="253.90" y="1287.60" width="15.60" height="15.60" rx="2.2" fill="#40ff40" fill-opacity="1" stroke="#000" stroke-width="3.6"/>
<rect x="278.35" y="1278.70" width="15.60" height="15.60" rx="2.2" fill="#40ff40" fill-opacity="1" stroke="#000" stroke-width="3.6"/>
<rect x="302.80" y="1276.80" width="15.60" height="15.60" rx="2.2" fill="#40ff40" fill-opacity="1" stroke="#000" stroke-width="3.6"/>
<rect x="327.25" y="1271.20" width="15.60" height="15.60" rx="2.2" fill="#40ff40" fill-opacity="1" stroke="#000" stroke-width="3.6"/>
<rect x="351.70" y="1268.50" width="15.60" height="15.60" rx="2.2" fill="#40ff40" fill-opacity="1" stroke="#000" stroke-width="3.6"/>
<rect x="376.15" y="1264.00" width="15.60" height="15.60" rx="2.2" fill="#40ff40" fill-opacity="1" stroke="#000" stroke-width="3.6"/>
<rect x="400.60" y="1261.80" width="15.60" height="15.60" rx="2.2" fill="#40ff40" fill-opacity="1" stroke="#000" stroke-width="3.6"/>
<rect x="425.05" y="1257.80" width="15.60" height="15.60" rx="2.2" fill="#40ff40" fill-opacity="1" stroke="#000" stroke-width="3.6"/>
<rect x="449.50" y="1257.80" width="15.60" height="15.60" rx="2.2" fill="#40ff40" fill-opacity="1" stroke="#000" stroke-width="3.6"/>
<rect x="473.95" y="1253.80" width="15.60" height="15.60" rx="2.2" fill="#40ff40" fill-opacity="1" stroke="#000" stroke-width="3.6"/>
<rect x="498.40" y="1253.20" width="15.60" height="15.60" rx="2.2" fill="#40ff40" fill-opacity="1" stroke="#000" stroke-width="3.6"/>
<rect x="522.85" y="1251.90" width="15.60" height="15.60" rx="2.2" fill="#40ff40" fill-opacity="1" stroke="#000" stroke-width="3.6"/>
<rect x="547.30" y="1253.80" width="15.60" height="15.60" rx="2.2" fill="#40ff40" fill-opacity="1" stroke="#000" stroke-width="3.6"/>
<rect x="571.75" y="1251.90" width="15.60" height="15.60" rx="2.2" fill="#40ff40" fill-opacity="1" stroke="#000" stroke-width="3.6"/>
<rect x="596.20" y="1253.00" width="15.60" height="15.60" rx="2.2" fill="#40ff40" fill-opacity="1" stroke="#000" stroke-width="3.6"/>
<rect x="620.65" y="1251.10" width="15.60" height="15.60" rx="2.2" fill="#40ff40" fill-opacity="1" stroke="#000" stroke-width="3.6"/>
<rect x="645.10" y="1255.00" width="15.60" height="15.60" rx="2.2" fill="#40ff40" fill-opacity="1" stroke="#000" stroke-width="3.6"/>
<rect x="669.55" y="1252.60" width="15.60" height="15.60" rx="2.2" fill="#40ff40" fill-opacity="1" stroke="#000" stroke-width="3.6"/>
<rect x="694.00" y="1255.00" width="15.60" height="15.60" rx="2.2" fill="#40ff40" fill-opacity="1" stroke="#000" stroke-width="3.6"/>
<clipPath id="gc1"><rect x="133.45" y="1324.40" width="12.00" height="12.00"/><rect x="157.90" y="1316.50" width="12.00" height="12.00"/><rect x="182.35" y="1307.30" width="12.00" height="12.00"/><rect x="206.80" y="1301.40" width="12.00" height="12.00"/><rect x="231.25" y="1292.80" width="12.00" height="12.00"/><rect x="255.70" y="1289.40" width="12.00" height="12.00"/><rect x="280.15" y="1280.50" width="12.00" height="12.00"/><rect x="304.60" y="1278.60" width="12.00" height="12.00"/><rect x="329.05" y="1273.00" width="12.00" height="12.00"/><rect x="353.50" y="1270.30" width="12.00" height="12.00"/><rect x="377.95" y="1265.80" width="12.00" height="12.00"/><rect x="402.40" y="1263.60" width="12.00" height="12.00"/><rect x="426.85" y="1259.60" width="12.00" height="12.00"/><rect x="451.30" y="1259.60" width="12.00" height="12.00"/><rect x="475.75" y="1255.60" width="12.00" height="12.00"/><rect x="500.20" y="1255.00" width="12.00" height="12.00"/><rect x="524.65" y="1253.70" width="12.00" height="12.00"/><rect x="549.10" y="1255.60" width="12.00" height="12.00"/><rect x="573.55" y="1253.70" width="12.00" height="12.00"/><rect x="598.00" y="1254.80" width="12.00" height="12.00"/><rect x="622.45" y="1252.90" width="12.00" height="12.00"/><rect x="646.90" y="1256.80" width="12.00" height="12.00"/><rect x="671.35" y="1254.40" width="12.00" height="12.00"/><rect x="695.80" y="1256.80" width="12.00" height="12.00"/></clipPath>
<polyline points="115.00,1334.80 139.45,1330.40 163.90,1322.50 188.35,1313.30 212.80,1307.40 237.25,1298.80 261.70,1295.40 286.15,1286.50 310.60,1284.60 335.05,1279.00 359.50,1276.30 383.95,1271.80 408.40,1269.60 432.85,1265.60 457.30,1265.60 481.75,1261.60 506.20,1261.00 530.65,1259.70 555.10,1261.60 579.55,1259.70 604.00,1260.80 628.45,1258.90 652.90,1262.80 677.35,1260.40 701.80,1262.80" fill="none" stroke="#00a800" stroke-width="2.2" stroke-linejoin="round" clip-path="url(#gc1)"/>
<text x="763.50" y="915.80" font-size="32.6" font-weight="bold">d</text>
<text x="1123.82" y="939.90" font-size="33">A549</text>
<line x1="870.7" y1="947.4" x2="870.7" y2="1357.4" stroke="#000" stroke-width="3.8"/>
<line x1="854.2" y1="1340.7" x2="1458" y2="1340.7" stroke="#000" stroke-width="3.9"/>
<line x1="854.4" y1="949.2" x2="870.7" y2="949.2" stroke="#000" stroke-width="3.7"/>
<text x="833.92" y="960.00" font-size="30">8</text>
<line x1="854.4" y1="1046.9" x2="870.7" y2="1046.9" stroke="#000" stroke-width="3.7"/>
<text x="833.92" y="1057.70" font-size="30">6</text>
<line x1="854.4" y1="1145.4" x2="870.7" y2="1145.4" stroke="#000" stroke-width="3.7"/>
<text x="833.47" y="1156.20" font-size="30">4</text>
<line x1="854.4" y1="1242.8" x2="870.7" y2="1242.8" stroke="#000" stroke-width="3.7"/>
<text x="834.15" y="1253.60" font-size="30">2</text>
<text x="833.77" y="1351.50" font-size="30">0</text>
<line x1="870.70" y1="1340" x2="870.70" y2="1357.4" stroke="#000" stroke-width="3.8"/>
<text x="857.20" y="1391.40" font-size="30.5">0</text>
<line x1="987.90" y1="1340" x2="987.90" y2="1357.4" stroke="#000" stroke-width="3.8"/>
<text x="965.40" y="1391.40" font-size="30.5">10</text>
<line x1="1105.10" y1="1340" x2="1105.10" y2="1357.4" stroke="#000" stroke-width="3.8"/>
<text x="1082.98" y="1391.40" font-size="30.5">20</text>
<line x1="1222.30" y1="1340" x2="1222.30" y2="1357.4" stroke="#000" stroke-width="3.8"/>
<text x="1200.37" y="1391.40" font-size="30.5">30</text>
<line x1="1339.50" y1="1340" x2="1339.50" y2="1357.4" stroke="#000" stroke-width="3.8"/>
<text x="1317.80" y="1391.40" font-size="30.5">40</text>
<line x1="1456.70" y1="1340" x2="1456.70" y2="1357.4" stroke="#000" stroke-width="3.8"/>
<text x="1434.73" y="1391.40" font-size="30.5">50</text>
<text x="1068.99" y="1434.10" font-size="33">hours [h]</text>
<text x="815.00" y="1248.24" font-size="32.8" transform="rotate(-90 815.00 1248.24)">fold change</text>
<circle cx="902.90" cy="1002.10" r="8" fill="#000"/>
<text x="922.94" y="1011.50" font-size="33.5">EGFP</text>
<rect x="895.60" y="1054.00" width="15.20" height="15.20" rx="2.2" fill="#40ff40" fill-opacity="1" stroke="#000" stroke-width="3.6"/>
<text x="922.94" y="1071.80" font-size="33.5">FAME-EGFP</text>
<line x1="988.90" y1="1242.80" x2="988.90" y2="1235.60" stroke="#000" stroke-width="1.9"/>
<line x1="981.10" y1="1235.60" x2="996.70" y2="1235.60" stroke="#000" stroke-width="1.9"/>
<line x1="1012.36" y1="1233.70" x2="1012.36" y2="1224.30" stroke="#000" stroke-width="1.9"/>
<line x1="1004.56" y1="1224.30" x2="1020.16" y2="1224.30" stroke="#000" stroke-width="1.9"/>
<line x1="1035.82" y1="1223.50" x2="1035.82" y2="1211.50" stroke="#000" stroke-width="1.9"/>
<line x1="1028.02" y1="1211.50" x2="1043.62" y2="1211.50" stroke="#000" stroke-width="1.9"/>
<line x1="1059.28" y1="1216.80" x2="1059.28" y2="1203.40" stroke="#000" stroke-width="1.9"/>
<line x1="1051.48" y1="1203.40" x2="1067.08" y2="1203.40" stroke="#000" stroke-width="1.9"/>
<line x1="1082.74" y1="1206.60" x2="1082.74" y2="1190.00" stroke="#000" stroke-width="1.9"/>
<line x1="1074.94" y1="1190.00" x2="1090.54" y2="1190.00" stroke="#000" stroke-width="1.9"/>
<line x1="1106.20" y1="1200.50" x2="1106.20" y2="1182.00" stroke="#000" stroke-width="1.9"/>
<line x1="1098.40" y1="1182.00" x2="1114.00" y2="1182.00" stroke="#000" stroke-width="1.9"/>
<line x1="1129.66" y1="1191.80" x2="1129.66" y2="1169.80" stroke="#000" stroke-width="1.9"/>
<line x1="1121.86" y1="1169.80" x2="1137.46" y2="1169.80" stroke="#000" stroke-width="1.9"/>
<line x1="1153.12" y1="1185.40" x2="1153.12" y2="1161.80" stroke="#000" stroke-width="1.9"/>
<line x1="1145.32" y1="1161.80" x2="1160.92" y2="1161.80" stroke="#000" stroke-width="1.9"/>
<line x1="1176.58" y1="1178.00" x2="1176.58" y2="1152.80" stroke="#000" stroke-width="1.9"/>
<line x1="1168.78" y1="1152.80" x2="1184.38" y2="1152.80" stroke="#000" stroke-width="1.9"/>
<line x1="1200.04" y1="1172.70" x2="1200.04" y2="1145.00" stroke="#000" stroke-width="1.9"/>
<line x1="1192.24" y1="1145.00" x2="1207.84" y2="1145.00" stroke="#000" stroke-width="1.9"/>
<line x1="1223.50" y1="1164.50" x2="1223.50" y2="1134.30" stroke="#000" stroke-width="1.9"/>
<line x1="1215.70" y1="1134.30" x2="1231.30" y2="1134.30" stroke="#000" stroke-width="1.9"/>
<line x1="1246.96" y1="1160.30" x2="1246.96" y2="1129.80" stroke="#000" stroke-width="1.9"/>
<line x1="1239.16" y1="1129.80" x2="1254.76" y2="1129.80" stroke="#000" stroke-width="1.9"/>
<line x1="1270.42" y1="1151.80" x2="1270.42" y2="1117.20" stroke="#000" stroke-width="1.9"/>
<line x1="1262.62" y1="1117.20" x2="1278.22" y2="1117.20" stroke="#000" stroke-width="1.9"/>
<line x1="1293.88" y1="1149.10" x2="1293.88" y2="1117.20" stroke="#000" stroke-width="1.9"/>
<line x1="1286.08" y1="1117.20" x2="1301.68" y2="1117.20" stroke="#000" stroke-width="1.9"/>
<line x1="1317.34" y1="1140.00" x2="1317.34" y2="1102.70" stroke="#000" stroke-width="1.9"/>
<line x1="1309.54" y1="1102.70" x2="1325.14" y2="1102.70" stroke="#000" stroke-width="1.9"/>
<line x1="1340.80" y1="1134.70" x2="1340.80" y2="1095.40" stroke="#000" stroke-width="1.9"/>
<line x1="1333.00" y1="1095.40" x2="1348.60" y2="1095.40" stroke="#000" stroke-width="1.9"/>
<line x1="1364.26" y1="1128.70" x2="1364.26" y2="1087.00" stroke="#000" stroke-width="1.9"/>
<line x1="1356.46" y1="1087.00" x2="1372.06" y2="1087.00" stroke="#000" stroke-width="1.9"/>
<line x1="1387.72" y1="1126.90" x2="1387.72" y2="1086.20" stroke="#000" stroke-width="1.9"/>
<line x1="1379.92" y1="1086.20" x2="1395.52" y2="1086.20" stroke="#000" stroke-width="1.9"/>
<line x1="1411.18" y1="1118.20" x2="1411.18" y2="1072.30" stroke="#000" stroke-width="1.9"/>
<line x1="1403.38" y1="1072.30" x2="1418.98" y2="1072.30" stroke="#000" stroke-width="1.9"/>
<line x1="1434.64" y1="1116.60" x2="1434.64" y2="1070.70" stroke="#000" stroke-width="1.9"/>
<line x1="1426.84" y1="1070.70" x2="1442.44" y2="1070.70" stroke="#000" stroke-width="1.9"/>
<line x1="1458.10" y1="1111.90" x2="1458.10" y2="1064.40" stroke="#000" stroke-width="1.9"/>
<line x1="1450.30" y1="1064.40" x2="1465.90" y2="1064.40" stroke="#000" stroke-width="1.9"/>
<polyline points="870.70,1291.90 895.06,1286.00 918.52,1274.50 941.98,1263.80 965.44,1253.80 988.90,1242.80 1012.36,1233.70 1035.82,1223.50 1059.28,1216.80 1082.74,1206.60 1106.20,1200.50 1129.66,1191.80 1153.12,1185.40 1176.58,1178.00 1200.04,1172.70 1223.50,1164.50 1246.96,1160.30 1270.42,1151.80 1293.88,1149.10 1317.34,1140.00 1340.80,1134.70 1364.26,1128.70 1387.72,1126.90 1411.18,1118.20 1434.64,1116.60 1458.10,1111.90" fill="none" stroke="#000" stroke-width="2.0" stroke-linejoin="round"/>
<polyline points="870.70,1291.90 895.06,1294.60 918.52,1289.30 941.98,1283.90 965.44,1279.10 988.90,1275.30 1012.36,1275.80 1035.82,1274.50 1059.28,1279.90 1082.74,1283.90 1106.20,1286.70 1129.66,1289.10 1153.12,1292.30 1176.58,1294.70 1200.04,1297.80 1223.50,1298.60 1246.96,1301.00 1270.42,1304.70 1293.88,1306.50 1317.34,1306.50 1340.80,1311.20 1364.26,1313.10 1387.72,1314.90 1411.18,1315.70 1434.64,1317.00 1458.10,1316.20" fill="none" stroke="#000" stroke-width="2.0" stroke-linejoin="round"/>
<circle cx="870.70" cy="1291.90" r="7.8" fill="#000"/>
<circle cx="895.06" cy="1286.00" r="7.8" fill="#000"/>
<circle cx="918.52" cy="1274.50" r="7.8" fill="#000"/>
<circle cx="941.98" cy="1263.80" r="7.8" fill="#000"/>
<circle cx="965.44" cy="1253.80" r="7.8" fill="#000"/>
<circle cx="988.90" cy="1242.80" r="7.8" fill="#000"/>
<circle cx="1012.36" cy="1233.70" r="7.8" fill="#000"/>
<circle cx="1035.82" cy="1223.50" r="7.8" fill="#000"/>
<circle cx="1059.28" cy="1216.80" r="7.8" fill="#000"/>
<circle cx="1082.74" cy="1206.60" r="7.8" fill="#000"/>
<circle cx="1106.20" cy="1200.50" r="7.8" fill="#000"/>
<circle cx="1129.66" cy="1191.80" r="7.8" fill="#000"/>
<circle cx="1153.12" cy="1185.40" r="7.8" fill="#000"/>
<circle cx="1176.58" cy="1178.00" r="7.8" fill="#000"/>
<circle cx="1200.04" cy="1172.70" r="7.8" fill="#000"/>
<circle cx="1223.50" cy="1164.50" r="7.8" fill="#000"/>
<circle cx="1246.96" cy="1160.30" r="7.8" fill="#000"/>
<circle cx="1270.42" cy="1151.80" r="7.8" fill="#000"/>
<circle cx="1293.88" cy="1149.10" r="7.8" fill="#000"/>
<circle cx="1317.34" cy="1140.00" r="7.8" fill="#000"/>
<circle cx="1340.80" cy="1134.70" r="7.8" fill="#000"/>
<circle cx="1364.26" cy="1128.70" r="7.8" fill="#000"/>
<circle cx="1387.72" cy="1126.90" r="7.8" fill="#000"/>
<circle cx="1411.18" cy="1118.20" r="7.8" fill="#000"/>
<circle cx="1434.64" cy="1116.60" r="7.8" fill="#000"/>
<circle cx="1458.10" cy="1111.90" r="7.8" fill="#000"/>
<rect x="862.90" y="1284.10" width="15.60" height="15.60" rx="2.2" fill="#000" fill-opacity="1" stroke="#000" stroke-width="3.6"/>
<rect x="887.26" y="1286.80" width="15.60" height="15.60" rx="2.2" fill="#40ff40" fill-opacity="1" stroke="#000" stroke-width="3.6"/>
<rect x="910.72" y="1281.50" width="15.60" height="15.60" rx="2.2" fill="#40ff40" fill-opacity="1" stroke="#000" stroke-width="3.6"/>
<rect x="934.18" y="1276.10" width="15.60" height="15.60" rx="2.2" fill="#40ff40" fill-opacity="1" stroke="#000" stroke-width="3.6"/>
<rect x="957.64" y="1271.30" width="15.60" height="15.60" rx="2.2" fill="#40ff40" fill-opacity="1" stroke="#000" stroke-width="3.6"/>
<rect x="981.10" y="1267.50" width="15.60" height="15.60" rx="2.2" fill="#40ff40" fill-opacity="1" stroke="#000" stroke-width="3.6"/>
<rect x="1004.56" y="1268.00" width="15.60" height="15.60" rx="2.2" fill="#40ff40" fill-opacity="1" stroke="#000" stroke-width="3.6"/>
<rect x="1028.02" y="1266.70" width="15.60" height="15.60" rx="2.2" fill="#40ff40" fill-opacity="1" stroke="#000" stroke-width="3.6"/>
<rect x="1051.48" y="1272.10" width="15.60" height="15.60" rx="2.2" fill="#40ff40" fill-opacity="1" stroke="#000" stroke-width="3.6"/>
<rect x="1074.94" y="1276.10" width="15.60" height="15.60" rx="2.2" fill="#40ff40" fill-opacity="1" stroke="#000" stroke-width="3.6"/>
<rect x="1098.40" y="1278.90" width="15.60" height="15.60" rx="2.2" fill="#40ff40" fill-opacity="1" stroke="#000" stroke-width="3.6"/>
<rect x="1121.86" y="1281.30" width="15.60" height="15.60" rx="2.2" fill="#40ff40" fill-opacity="1" stroke="#000" stroke-width="3.6"/>
<rect x="1145.32" y="1284.50" width="15.60" height="15.60" rx="2.2" fill="#40ff40" fill-opacity="1" stroke="#000" stroke-width="3.6"/>
<rect x="1168.78" y="1286.90" width="15.60" height="15.60" rx="2.2" fill="#40ff40" fill-opacity="1" stroke="#000" stroke-width="3.6"/>
<rect x="1192.24" y="1290.00" width="15.60" height="15.60" rx="2.2" fill="#40ff40" fill-opacity="1" stroke="#000" stroke-width="3.6"/>
<rect x="1215.70" y="1290.80" width="15.60" height="15.60" rx="2.2" fill="#40ff40" fill-opacity="1" stroke="#000" stroke-width="3.6"/>
<rect x="1239.16" y="1293.20" width="15.60" height="15.60" rx="2.2" fill="#40ff40" fill-opacity="1" stroke="#000" stroke-width="3.6"/>
<rect x="1262.62" y="1296.90" width="15.60" height="15.60" rx="2.2" fill="#40ff40" fill-opacity="1" stroke="#000" stroke-width="3.6"/>
<rect x="1286.08" y="1298.70" width="15.60" height="15.60" rx="2.2" fill="#40ff40" fill-opacity="1" stroke="#000" stroke-width="3.6"/>
<rect x="1309.54" y="1298.70" width="15.60" height="15.60" rx="2.2" fill="#40ff40" fill-opacity="1" stroke="#000" stroke-width="3.6"/>
<rect x="1333.00" y="1303.40" width="15.60" height="15.60" rx="2.2" fill="#40ff40" fill-opacity="1" stroke="#000" stroke-width="3.6"/>
<rect x="1356.46" y="1305.30" width="15.60" height="15.60" rx="2.2" fill="#40ff40" fill-opacity="1" stroke="#000" stroke-width="3.6"/>
<rect x="1379.92" y="1307.10" width="15.60" height="15.60" rx="2.2" fill="#40ff40" fill-opacity="1" stroke="#000" stroke-width="3.6"/>
<rect x="1403.38" y="1307.90" width="15.60" height="15.60" rx="2.2" fill="#40ff40" fill-opacity="1" stroke="#000" stroke-width="3.6"/>
<rect x="1426.84" y="1309.20" width="15.60" height="15.60" rx="2.2" fill="#40ff40" fill-opacity="1" stroke="#000" stroke-width="3.6"/>
<rect x="1450.30" y="1308.40" width="15.60" height="15.60" rx="2.2" fill="#40ff40" fill-opacity="1" stroke="#000" stroke-width="3.6"/>
<clipPath id="gc2"><rect x="889.06" y="1288.60" width="12.00" height="12.00"/><rect x="912.52" y="1283.30" width="12.00" height="12.00"/><rect x="935.98" y="1277.90" width="12.00" height="12.00"/><rect x="959.44" y="1273.10" width="12.00" height="12.00"/><rect x="982.90" y="1269.30" width="12.00" height="12.00"/><rect x="1006.36" y="1269.80" width="12.00" height="12.00"/><rect x="1029.82" y="1268.50" width="12.00" height="12.00"/><rect x="1053.28" y="1273.90" width="12.00" height="12.00"/><rect x="1076.74" y="1277.90" width="12.00" height="12.00"/><rect x="1100.20" y="1280.70" width="12.00" height="12.00"/><rect x="1123.66" y="1283.10" width="12.00" height="12.00"/><rect x="1147.12" y="1286.30" width="12.00" height="12.00"/><rect x="1170.58" y="1288.70" width="12.00" height="12.00"/><rect x="1194.04" y="1291.80" width="12.00" height="12.00"/><rect x="1217.50" y="1292.60" width="12.00" height="12.00"/><rect x="1240.96" y="1295.00" width="12.00" height="12.00"/><rect x="1264.42" y="1298.70" width="12.00" height="12.00"/><rect x="1287.88" y="1300.50" width="12.00" height="12.00"/><rect x="1311.34" y="1300.50" width="12.00" height="12.00"/><rect x="1334.80" y="1305.20" width="12.00" height="12.00"/><rect x="1358.26" y="1307.10" width="12.00" height="12.00"/><rect x="1381.72" y="1308.90" width="12.00" height="12.00"/><rect x="1405.18" y="1309.70" width="12.00" height="12.00"/><rect x="1428.64" y="1311.00" width="12.00" height="12.00"/><rect x="1452.10" y="1310.20" width="12.00" height="12.00"/></clipPath>
<polyline points="870.70,1291.90 895.06,1294.60 918.52,1289.30 941.98,1283.90 965.44,1279.10 988.90,1275.30 1012.36,1275.80 1035.82,1274.50 1059.28,1279.90 1082.74,1283.90 1106.20,1286.70 1129.66,1289.10 1153.12,1292.30 1176.58,1294.70 1200.04,1297.80 1223.50,1298.60 1246.96,1301.00 1270.42,1304.70 1293.88,1306.50 1317.34,1306.50 1340.80,1311.20 1364.26,1313.10 1387.72,1314.90 1411.18,1315.70 1434.64,1317.00 1458.10,1316.20" fill="none" stroke="#00a800" stroke-width="2.2" stroke-linejoin="round" clip-path="url(#gc2)"/>
<text x="-0.20" y="1535.20" font-size="32.6" font-weight="bold">e</text>
<text x="37.03" y="1559.5" font-size="32.75" font-weight="bold"><tspan font-style="italic">FAME</tspan> expression in A549 cells</text>
<path d="M197.80,1666.10 C198.02,1667.43 197.27,1671.42 199.10,1674.10 C200.93,1676.78 206.85,1679.92 208.80,1682.20 C210.75,1684.48 211.33,1685.65 210.80,1687.80 C210.27,1689.95 206.22,1693.08 205.60,1695.10 C204.98,1697.12 205.23,1698.30 207.10,1699.90 C208.97,1701.50 214.37,1702.55 216.80,1704.70 C219.23,1706.85 221.70,1710.38 221.70,1712.80 C221.70,1715.22 219.75,1717.05 216.80,1719.20 C213.85,1721.35 207.08,1723.82 204.00,1725.70 C200.92,1727.58 199.33,1728.63 198.30,1730.50 C197.27,1732.37 197.88,1735.83 197.80,1736.90 L197.80,1736.90 C197.72,1735.83 198.33,1732.37 197.30,1730.50 C196.27,1728.63 194.68,1727.58 191.60,1725.70 C188.52,1723.82 181.75,1721.35 178.80,1719.20 C175.85,1717.05 173.90,1715.22 173.90,1712.80 C173.90,1710.38 176.37,1706.85 178.80,1704.70 C181.23,1702.55 186.63,1701.50 188.50,1699.90 C190.37,1698.30 190.62,1697.12 190.00,1695.10 C189.38,1693.08 185.33,1689.95 184.80,1687.80 C184.27,1685.65 184.85,1684.48 186.80,1682.20 C188.75,1679.92 194.67,1676.78 196.50,1674.10 C198.33,1671.42 197.58,1667.43 197.80,1666.10 Z" fill="#9b9b9b" stroke="#000" stroke-width="5.5" stroke-linejoin="bevel"/>
<path d="M278.60,1885.00 C279.15,1885.80 279.02,1887.92 281.90,1889.80 C284.78,1891.68 292.53,1893.88 295.90,1896.30 C299.27,1898.72 301.07,1901.35 302.10,1904.30 C303.13,1907.25 302.72,1911.32 302.10,1914.00 C301.48,1916.68 298.88,1918.52 298.40,1920.40 C297.92,1922.28 300.40,1923.42 299.20,1925.30 C298.00,1927.18 294.08,1929.83 291.20,1931.70 C288.32,1933.57 284.00,1934.75 281.90,1936.50 C279.80,1938.25 279.15,1941.25 278.60,1942.20 L278.60,1942.20 C278.05,1941.25 277.40,1938.25 275.30,1936.50 C273.20,1934.75 268.88,1933.57 266.00,1931.70 C263.12,1929.83 259.20,1927.18 258.00,1925.30 C256.80,1923.42 259.28,1922.28 258.80,1920.40 C258.32,1918.52 255.72,1916.68 255.10,1914.00 C254.48,1911.32 254.07,1907.25 255.10,1904.30 C256.13,1901.35 257.93,1898.72 261.30,1896.30 C264.67,1893.88 272.42,1891.68 275.30,1889.80 C278.18,1887.92 278.05,1885.80 278.60,1885.00 Z" fill="#0f5f14" stroke="#000" stroke-width="5.5" stroke-linejoin="bevel"/>
<path d="M359.10,1823.80 C359.23,1826.50 358.68,1835.43 359.90,1840.00 C361.12,1844.57 364.50,1847.18 366.40,1851.20 C368.30,1855.22 370.88,1860.07 371.30,1864.10 C371.72,1868.13 370.38,1871.38 368.90,1875.40 C367.42,1879.42 362.15,1883.92 362.40,1888.20 C362.65,1892.48 367.32,1897.07 370.40,1901.10 C373.48,1905.13 378.87,1908.92 380.90,1912.40 C382.93,1915.88 383.27,1918.52 382.60,1922.00 C381.93,1925.48 380.27,1929.27 376.90,1933.30 C373.53,1937.33 365.27,1942.45 362.40,1946.20 C359.53,1949.95 360.25,1951.52 359.70,1955.80 C359.15,1960.08 359.20,1969.22 359.10,1971.90 L359.10,1971.90 C359.00,1969.22 359.05,1960.08 358.50,1955.80 C357.95,1951.52 358.67,1949.95 355.80,1946.20 C352.93,1942.45 344.67,1937.33 341.30,1933.30 C337.93,1929.27 336.27,1925.48 335.60,1922.00 C334.93,1918.52 335.27,1915.88 337.30,1912.40 C339.33,1908.92 344.72,1905.13 347.80,1901.10 C350.88,1897.07 355.55,1892.48 355.80,1888.20 C356.05,1883.92 350.78,1879.42 349.30,1875.40 C347.82,1871.38 346.48,1868.13 346.90,1864.10 C347.32,1860.07 349.90,1855.22 351.80,1851.20 C353.70,1847.18 357.08,1844.57 358.30,1840.00 C359.52,1835.43 358.97,1826.50 359.10,1823.80 Z" fill="#ff4848" stroke="#000" stroke-width="5.5" stroke-linejoin="bevel"/>
<circle cx="197.80" cy="1687.00" r="6.5" fill="#000"/>
<circle cx="184.30" cy="1712.80" r="6.5" fill="#000"/>
<circle cx="211.30" cy="1712.80" r="6.5" fill="#000"/>
<line x1="192" y1="1710.8" x2="203" y2="1710.8" stroke="#000" stroke-width="1.6" stroke-dasharray="3,2"/>
<line x1="190" y1="1715" x2="205" y2="1715" stroke="#000" stroke-width="1.2" stroke-dasharray="1.5,3"/>
<rect x="258.9" y="1897.0" width="13" height="13" fill="#000"/>
<rect x="284.7" y="1905.1" width="13" height="13" fill="#000"/>
<rect x="271.8" y="1918.8" width="13" height="13" fill="#000"/>
<line x1="264" y1="1912" x2="282" y2="1912" stroke="#000" stroke-width="1.8" stroke-dasharray="4,3"/>
<line x1="262" y1="1901" x2="296" y2="1901" stroke="#000" stroke-width="1.4" stroke-dasharray="1.5,3.5"/>
<line x1="262" y1="1925" x2="296" y2="1925" stroke="#000" stroke-width="1.4" stroke-dasharray="1.5,3.5"/>
<path d="M359.1,1862.9 L366.0,1875.8 L352.2,1875.8 Z" fill="#000"/>
<path d="M371.7,1915.2 L378.6,1928.1 L364.8,1928.1 Z" fill="#000"/>
<path d="M346.7,1920.1 L353.6,1933.0 L339.8,1933.0 Z" fill="#000"/>
<line x1="341" y1="1918.5" x2="377" y2="1918.5" stroke="#000" stroke-width="1.8" stroke-dasharray="4,3"/>
<line x1="343" y1="1925.6" x2="377" y2="1925.6" stroke="#000" stroke-width="1.4" stroke-dasharray="1.5,3.5"/>
<line x1="351" y1="1869" x2="367" y2="1869" stroke="#000" stroke-width="1.4" stroke-dasharray="1.5,3.5"/>
<line x1="143.8" y1="1574.6" x2="143.8" y2="1980.9" stroke="#000" stroke-width="3.7"/>
<line x1="126.9" y1="1979" x2="414.6" y2="1979" stroke="#000" stroke-width="3.7"/>
<line x1="127.2" y1="1576.4" x2="143.8" y2="1576.4" stroke="#000" stroke-width="3.6"/>
<text x="80.20" y="1587.70" font-size="28">1.5</text>
<line x1="127.2" y1="1710.5" x2="143.8" y2="1710.5" stroke="#000" stroke-width="3.6"/>
<text x="80.13" y="1721.80" font-size="28">1.0</text>
<line x1="127.2" y1="1844.7" x2="143.8" y2="1844.7" stroke="#000" stroke-width="3.6"/>
<text x="80.20" y="1856.00" font-size="28">0.5</text>
<text x="80.13" y="1990.30" font-size="28">0.0</text>
<line x1="197.7" y1="1979" x2="197.7" y2="1996.7" stroke="#000" stroke-width="3.7"/>
<line x1="278" y1="1979" x2="278" y2="1996.7" stroke="#000" stroke-width="3.7"/>
<line x1="358.5" y1="1979" x2="358.5" y2="1996.7" stroke="#000" stroke-width="3.7"/>
<text x="32.70" y="1913.45" font-size="32.8" transform="rotate(-90 32.70 1913.45)">normalized relative</text>
<text x="71.40" y="1855.12" font-size="32.8" transform="rotate(-90 71.40 1855.12)">expression</text>
<text x="544.23" y="1533.00" font-size="32.6" font-weight="bold">f</text>
<text x="633.19" y="1558.80" font-size="32.75" font-weight="bold">Proliferation analyis of A549-CRISPR-KO cells</text>
<line x1="644.9" y1="1584.4" x2="644.9" y2="1992" stroke="#000" stroke-width="3.7"/>
<line x1="628" y1="1976.5" x2="1233.6" y2="1976.5" stroke="#000" stroke-width="3.8"/>
<line x1="628.4" y1="1586.2" x2="644.9" y2="1586.2" stroke="#000" stroke-width="3.7"/>
<text x="608.08" y="1596.90" font-size="29.5">6</text>
<line x1="628.4" y1="1716.5" x2="644.9" y2="1716.5" stroke="#000" stroke-width="3.7"/>
<text x="607.64" y="1727.20" font-size="29.5">4</text>
<line x1="628.4" y1="1847" x2="644.9" y2="1847" stroke="#000" stroke-width="3.7"/>
<text x="608.30" y="1857.70" font-size="29.5">2</text>
<text x="607.93" y="1987.20" font-size="29.5">0</text>
<line x1="644.90" y1="1976" x2="644.90" y2="1992.5" stroke="#000" stroke-width="3.7"/>
<text x="636.84" y="2027.30" font-size="30">0</text>
<line x1="762.20" y1="1976" x2="762.20" y2="1992.5" stroke="#000" stroke-width="3.7"/>
<text x="745.29" y="2027.30" font-size="30">10</text>
<line x1="879.50" y1="1976" x2="879.50" y2="1992.5" stroke="#000" stroke-width="3.7"/>
<text x="862.96" y="2027.30" font-size="30">20</text>
<line x1="996.80" y1="1976" x2="996.80" y2="1992.5" stroke="#000" stroke-width="3.7"/>
<text x="980.45" y="2027.30" font-size="30">30</text>
<line x1="1114.10" y1="1976" x2="1114.10" y2="1992.5" stroke="#000" stroke-width="3.7"/>
<text x="1097.97" y="2027.30" font-size="30">40</text>
<line x1="1231.40" y1="1976" x2="1231.40" y2="1992.5" stroke="#000" stroke-width="3.7"/>
<text x="1215.01" y="2027.30" font-size="30">50</text>
<text x="881.69" y="2075.30" font-size="33">hours [h]</text>
<text x="587.40" y="1870.39" font-size="32.8" transform="rotate(-90 587.40 1870.39)">fold change</text>
<rect x="1267" y="1675.5" width="29.9" height="29.4" fill="#9b9b9b"/>
<rect x="1267" y="1725.4" width="29.9" height="29.1" fill="#00913c"/>
<rect x="1267" y="1773.6" width="29.9" height="28.6" fill="#ff3f3f"/>
<text x="1306.34" y="1704.90" font-size="32.2">WT</text>
<text x="1308.33" y="1754" font-size="32.2"><tspan font-style="italic">FAME</tspan>-KO#1</text>
<text x="1308.33" y="1801.8" font-size="32.2"><tspan font-style="italic">FAME</tspan>-KO#2</text>
<polyline points="644.90,1911.50 668.36,1908.00 691.82,1904.50 715.28,1901.00 738.74,1897.50 762.20,1894.00 785.66,1890.90 809.12,1887.70 832.58,1884.40 856.04,1880.40 879.50,1877.20 902.96,1873.60 926.42,1870.00 949.88,1864.20 973.34,1859.50 996.80,1854.80 1020.26,1850.10 1043.72,1844.80 1067.18,1839.90 1090.64,1834.30 1114.10,1829.80 1137.56,1825.30 1161.02,1820.70 1184.48,1817.10 1207.94,1812.90 1231.40,1809.50" fill="none" stroke="#000" stroke-width="1.8" stroke-linejoin="round"/>
<path d="M636.65,1903.50 L653.15,1903.50 L644.90,1919.50 Z" fill="#9b9b9b"/>
<path d="M660.11,1900.00 L676.61,1900.00 L668.36,1916.00 Z" fill="#9b9b9b"/>
<path d="M683.57,1896.50 L700.07,1896.50 L691.82,1912.50 Z" fill="#9b9b9b"/>
<path d="M707.03,1893.00 L723.53,1893.00 L715.28,1909.00 Z" fill="#9b9b9b"/>
<path d="M730.49,1889.50 L746.99,1889.50 L738.74,1905.50 Z" fill="#9b9b9b"/>
<path d="M753.95,1886.00 L770.45,1886.00 L762.20,1902.00 Z" fill="#9b9b9b"/>
<path d="M777.41,1882.90 L793.91,1882.90 L785.66,1898.90 Z" fill="#9b9b9b"/>
<path d="M800.87,1879.70 L817.37,1879.70 L809.12,1895.70 Z" fill="#9b9b9b"/>
<path d="M824.33,1876.40 L840.83,1876.40 L832.58,1892.40 Z" fill="#9b9b9b"/>
<path d="M847.79,1872.40 L864.29,1872.40 L856.04,1888.40 Z" fill="#9b9b9b"/>
<path d="M871.25,1869.20 L887.75,1869.20 L879.50,1885.20 Z" fill="#9b9b9b"/>
<path d="M894.71,1865.60 L911.21,1865.60 L902.96,1881.60 Z" fill="#9b9b9b"/>
<path d="M918.17,1862.00 L934.67,1862.00 L926.42,1878.00 Z" fill="#9b9b9b"/>
<path d="M941.63,1856.20 L958.13,1856.20 L949.88,1872.20 Z" fill="#9b9b9b"/>
<path d="M965.09,1851.50 L981.59,1851.50 L973.34,1867.50 Z" fill="#9b9b9b"/>
<path d="M988.55,1846.80 L1005.05,1846.80 L996.80,1862.80 Z" fill="#9b9b9b"/>
<path d="M1012.01,1842.10 L1028.51,1842.10 L1020.26,1858.10 Z" fill="#9b9b9b"/>
<path d="M1035.47,1836.80 L1051.97,1836.80 L1043.72,1852.80 Z" fill="#9b9b9b"/>
<path d="M1058.93,1831.90 L1075.43,1831.90 L1067.18,1847.90 Z" fill="#9b9b9b"/>
<path d="M1082.39,1826.30 L1098.89,1826.30 L1090.64,1842.30 Z" fill="#9b9b9b"/>
<path d="M1105.85,1821.80 L1122.35,1821.80 L1114.10,1837.80 Z" fill="#9b9b9b"/>
<path d="M1129.31,1817.30 L1145.81,1817.30 L1137.56,1833.30 Z" fill="#9b9b9b"/>
<path d="M1152.77,1812.70 L1169.27,1812.70 L1161.02,1828.70 Z" fill="#9b9b9b"/>
<path d="M1176.23,1809.10 L1192.73,1809.10 L1184.48,1825.10 Z" fill="#9b9b9b"/>
<path d="M1199.69,1804.90 L1216.19,1804.90 L1207.94,1820.90 Z" fill="#9b9b9b"/>
<path d="M1223.15,1801.50 L1239.65,1801.50 L1231.40,1817.50 Z" fill="#9b9b9b"/>
<line x1="856.04" y1="1861.50" x2="856.04" y2="1848.00" stroke="#000" stroke-width="2"/>
<line x1="848.39" y1="1848.00" x2="863.69" y2="1848.00" stroke="#000" stroke-width="2"/>
<line x1="856.04" y1="1865.80" x2="856.04" y2="1852.00" stroke="#000" stroke-width="2"/>
<line x1="848.39" y1="1852.00" x2="863.69" y2="1852.00" stroke="#000" stroke-width="2"/>
<line x1="879.50" y1="1853.90" x2="879.50" y2="1836.00" stroke="#000" stroke-width="2"/>
<line x1="871.85" y1="1836.00" x2="887.15" y2="1836.00" stroke="#000" stroke-width="2"/>
<line x1="879.50" y1="1858.20" x2="879.50" y2="1842.00" stroke="#000" stroke-width="2"/>
<line x1="871.85" y1="1842.00" x2="887.15" y2="1842.00" stroke="#000" stroke-width="2"/>
<line x1="902.96" y1="1846.70" x2="902.96" y2="1834.80" stroke="#000" stroke-width="2"/>
<line x1="895.31" y1="1834.80" x2="910.61" y2="1834.80" stroke="#000" stroke-width="2"/>
<line x1="902.96" y1="1851.00" x2="902.96" y2="1834.80" stroke="#000" stroke-width="2"/>
<line x1="895.31" y1="1834.80" x2="910.61" y2="1834.80" stroke="#000" stroke-width="2"/>
<line x1="926.42" y1="1838.30" x2="926.42" y2="1824.30" stroke="#000" stroke-width="2"/>
<line x1="918.77" y1="1824.30" x2="934.07" y2="1824.30" stroke="#000" stroke-width="2"/>
<line x1="926.42" y1="1842.10" x2="926.42" y2="1826.00" stroke="#000" stroke-width="2"/>
<line x1="918.77" y1="1826.00" x2="934.07" y2="1826.00" stroke="#000" stroke-width="2"/>
<line x1="949.88" y1="1828.50" x2="949.88" y2="1812.50" stroke="#000" stroke-width="2"/>
<line x1="942.23" y1="1812.50" x2="957.53" y2="1812.50" stroke="#000" stroke-width="2"/>
<line x1="949.88" y1="1834.00" x2="949.88" y2="1819.60" stroke="#000" stroke-width="2"/>
<line x1="942.23" y1="1819.60" x2="957.53" y2="1819.60" stroke="#000" stroke-width="2"/>
<line x1="973.34" y1="1818.30" x2="973.34" y2="1799.60" stroke="#000" stroke-width="2"/>
<line x1="965.69" y1="1799.60" x2="980.99" y2="1799.60" stroke="#000" stroke-width="2"/>
<line x1="973.34" y1="1824.50" x2="973.34" y2="1807.80" stroke="#000" stroke-width="2"/>
<line x1="965.69" y1="1807.80" x2="980.99" y2="1807.80" stroke="#000" stroke-width="2"/>
<line x1="996.80" y1="1807.00" x2="996.80" y2="1785.50" stroke="#000" stroke-width="2"/>
<line x1="989.15" y1="1785.50" x2="1004.45" y2="1785.50" stroke="#000" stroke-width="2"/>
<line x1="996.80" y1="1813.50" x2="996.80" y2="1795.40" stroke="#000" stroke-width="2"/>
<line x1="989.15" y1="1795.40" x2="1004.45" y2="1795.40" stroke="#000" stroke-width="2"/>
<line x1="1020.26" y1="1795.70" x2="1020.26" y2="1770.80" stroke="#000" stroke-width="2"/>
<line x1="1012.61" y1="1770.80" x2="1027.91" y2="1770.80" stroke="#000" stroke-width="2"/>
<line x1="1020.26" y1="1802.70" x2="1020.26" y2="1782.50" stroke="#000" stroke-width="2"/>
<line x1="1012.61" y1="1782.50" x2="1027.91" y2="1782.50" stroke="#000" stroke-width="2"/>
<line x1="1043.72" y1="1784.40" x2="1043.72" y2="1756.90" stroke="#000" stroke-width="2"/>
<line x1="1036.07" y1="1756.90" x2="1051.37" y2="1756.90" stroke="#000" stroke-width="2"/>
<line x1="1043.72" y1="1791.90" x2="1043.72" y2="1769.10" stroke="#000" stroke-width="2"/>
<line x1="1036.07" y1="1769.10" x2="1051.37" y2="1769.10" stroke="#000" stroke-width="2"/>
<line x1="1067.18" y1="1772.90" x2="1067.18" y2="1742.60" stroke="#000" stroke-width="2"/>
<line x1="1059.53" y1="1742.60" x2="1074.83" y2="1742.60" stroke="#000" stroke-width="2"/>
<line x1="1067.18" y1="1780.70" x2="1067.18" y2="1755.00" stroke="#000" stroke-width="2"/>
<line x1="1059.53" y1="1755.00" x2="1074.83" y2="1755.00" stroke="#000" stroke-width="2"/>
<line x1="1090.64" y1="1761.40" x2="1090.64" y2="1728.50" stroke="#000" stroke-width="2"/>
<line x1="1082.99" y1="1728.50" x2="1098.29" y2="1728.50" stroke="#000" stroke-width="2"/>
<line x1="1090.64" y1="1769.20" x2="1090.64" y2="1741.00" stroke="#000" stroke-width="2"/>
<line x1="1082.99" y1="1741.00" x2="1098.29" y2="1741.00" stroke="#000" stroke-width="2"/>
<line x1="1114.10" y1="1750.00" x2="1114.10" y2="1713.50" stroke="#000" stroke-width="2"/>
<line x1="1106.45" y1="1713.50" x2="1121.75" y2="1713.50" stroke="#000" stroke-width="2"/>
<line x1="1114.10" y1="1757.20" x2="1114.10" y2="1726.90" stroke="#000" stroke-width="2"/>
<line x1="1106.45" y1="1726.90" x2="1121.75" y2="1726.90" stroke="#000" stroke-width="2"/>
<line x1="1137.56" y1="1739.80" x2="1137.56" y2="1699.90" stroke="#000" stroke-width="2"/>
<line x1="1129.91" y1="1699.90" x2="1145.21" y2="1699.90" stroke="#000" stroke-width="2"/>
<line x1="1137.56" y1="1746.10" x2="1137.56" y2="1712.30" stroke="#000" stroke-width="2"/>
<line x1="1129.91" y1="1712.30" x2="1145.21" y2="1712.30" stroke="#000" stroke-width="2"/>
<line x1="1161.02" y1="1728.50" x2="1161.02" y2="1686.00" stroke="#000" stroke-width="2"/>
<line x1="1153.37" y1="1686.00" x2="1168.67" y2="1686.00" stroke="#000" stroke-width="2"/>
<line x1="1161.02" y1="1733.50" x2="1161.02" y2="1697.10" stroke="#000" stroke-width="2"/>
<line x1="1153.37" y1="1697.10" x2="1168.67" y2="1697.10" stroke="#000" stroke-width="2"/>
<line x1="1184.48" y1="1719.30" x2="1184.48" y2="1674.00" stroke="#000" stroke-width="2"/>
<line x1="1176.83" y1="1674.00" x2="1192.13" y2="1674.00" stroke="#000" stroke-width="2"/>
<line x1="1184.48" y1="1722.10" x2="1184.48" y2="1682.90" stroke="#000" stroke-width="2"/>
<line x1="1176.83" y1="1682.90" x2="1192.13" y2="1682.90" stroke="#000" stroke-width="2"/>
<line x1="1207.94" y1="1710.90" x2="1207.94" y2="1662.80" stroke="#000" stroke-width="2"/>
<line x1="1200.29" y1="1662.80" x2="1215.59" y2="1662.80" stroke="#000" stroke-width="2"/>
<line x1="1207.94" y1="1711.10" x2="1207.94" y2="1668.60" stroke="#000" stroke-width="2"/>
<line x1="1200.29" y1="1668.60" x2="1215.59" y2="1668.60" stroke="#000" stroke-width="2"/>
<line x1="1231.40" y1="1702.20" x2="1231.40" y2="1652.60" stroke="#000" stroke-width="2"/>
<line x1="1223.75" y1="1652.60" x2="1239.05" y2="1652.60" stroke="#000" stroke-width="2"/>
<line x1="1231.40" y1="1700.20" x2="1231.40" y2="1655.90" stroke="#000" stroke-width="2"/>
<line x1="1223.75" y1="1655.90" x2="1239.05" y2="1655.90" stroke="#000" stroke-width="2"/>
<polyline points="644.90,1911.80 668.36,1907.40 691.82,1904.10 715.28,1899.50 738.74,1894.40 762.20,1889.50 785.66,1884.50 809.12,1877.80 832.58,1872.20 856.04,1865.80 879.50,1858.20 902.96,1851.00 926.42,1842.10 949.88,1834.00 973.34,1824.50 996.80,1813.50 1020.26,1802.70 1043.72,1791.90 1067.18,1780.70 1090.64,1769.20 1114.10,1757.20 1137.56,1746.10 1161.02,1733.50 1184.48,1722.10 1207.94,1711.10 1231.40,1700.20" fill="none" stroke="#000" stroke-width="2" stroke-linejoin="round"/>
<rect x="637.30" y="1904.20" width="15.20" height="15.20" rx="2.2" fill="#ff4545" fill-opacity="1" stroke="#000" stroke-width="4"/>
<rect x="660.76" y="1899.80" width="15.20" height="15.20" rx="2.2" fill="#ff4545" fill-opacity="1" stroke="#000" stroke-width="4"/>
<rect x="684.22" y="1896.50" width="15.20" height="15.20" rx="2.2" fill="#ff4545" fill-opacity="1" stroke="#000" stroke-width="4"/>
<rect x="707.68" y="1891.90" width="15.20" height="15.20" rx="2.2" fill="#ff4545" fill-opacity="1" stroke="#000" stroke-width="4"/>
<rect x="731.14" y="1886.80" width="15.20" height="15.20" rx="2.2" fill="#ff4545" fill-opacity="1" stroke="#000" stroke-width="4"/>
<rect x="754.60" y="1881.90" width="15.20" height="15.20" rx="2.2" fill="#ff4545" fill-opacity="1" stroke="#000" stroke-width="4"/>
<rect x="778.06" y="1876.90" width="15.20" height="15.20" rx="2.2" fill="#ff4545" fill-opacity="1" stroke="#000" stroke-width="4"/>
<rect x="801.52" y="1870.20" width="15.20" height="15.20" rx="2.2" fill="#ff4545" fill-opacity="1" stroke="#000" stroke-width="4"/>
<rect x="824.98" y="1864.60" width="15.20" height="15.20" rx="2.2" fill="#ff4545" fill-opacity="1" stroke="#000" stroke-width="4"/>
<rect x="848.44" y="1858.20" width="15.20" height="15.20" rx="2.2" fill="#ff4545" fill-opacity="1" stroke="#000" stroke-width="4"/>
<rect x="871.90" y="1850.60" width="15.20" height="15.20" rx="2.2" fill="#ff4545" fill-opacity="1" stroke="#000" stroke-width="4"/>
<rect x="895.36" y="1843.40" width="15.20" height="15.20" rx="2.2" fill="#ff4545" fill-opacity="1" stroke="#000" stroke-width="4"/>
<rect x="918.82" y="1834.50" width="15.20" height="15.20" rx="2.2" fill="#ff4545" fill-opacity="1" stroke="#000" stroke-width="4"/>
<rect x="942.28" y="1826.40" width="15.20" height="15.20" rx="2.2" fill="#ff4545" fill-opacity="1" stroke="#000" stroke-width="4"/>
<rect x="965.74" y="1816.90" width="15.20" height="15.20" rx="2.2" fill="#ff4545" fill-opacity="1" stroke="#000" stroke-width="4"/>
<rect x="989.20" y="1805.90" width="15.20" height="15.20" rx="2.2" fill="#ff4545" fill-opacity="1" stroke="#000" stroke-width="4"/>
<rect x="1012.66" y="1795.10" width="15.20" height="15.20" rx="2.2" fill="#ff4545" fill-opacity="1" stroke="#000" stroke-width="4"/>
<rect x="1036.12" y="1784.30" width="15.20" height="15.20" rx="2.2" fill="#ff4545" fill-opacity="1" stroke="#000" stroke-width="4"/>
<rect x="1059.58" y="1773.10" width="15.20" height="15.20" rx="2.2" fill="#ff4545" fill-opacity="1" stroke="#000" stroke-width="4"/>
<rect x="1083.04" y="1761.60" width="15.20" height="15.20" rx="2.2" fill="#ff4545" fill-opacity="1" stroke="#000" stroke-width="4"/>
<rect x="1106.50" y="1749.60" width="15.20" height="15.20" rx="2.2" fill="#ff4545" fill-opacity="1" stroke="#000" stroke-width="4"/>
<rect x="1129.96" y="1738.50" width="15.20" height="15.20" rx="2.2" fill="#ff4545" fill-opacity="1" stroke="#000" stroke-width="4"/>
<rect x="1153.42" y="1725.90" width="15.20" height="15.20" rx="2.2" fill="#ff4545" fill-opacity="1" stroke="#000" stroke-width="4"/>
<rect x="1176.88" y="1714.50" width="15.20" height="15.20" rx="2.2" fill="#ff4545" fill-opacity="1" stroke="#000" stroke-width="4"/>
<rect x="1200.34" y="1703.50" width="15.20" height="15.20" rx="2.2" fill="#ff4545" fill-opacity="1" stroke="#000" stroke-width="4"/>
<rect x="1223.80" y="1692.60" width="15.20" height="15.20" rx="2.2" fill="#ff4545" fill-opacity="1" stroke="#000" stroke-width="4"/>
<polyline points="644.90,1911.80 668.36,1907.40 691.82,1904.10 715.28,1899.00 738.74,1892.90 762.20,1886.50 785.66,1880.70 809.12,1873.80 832.58,1867.90 856.04,1861.50 879.50,1853.90 902.96,1846.70 926.42,1838.30 949.88,1828.50 973.34,1818.30 996.80,1807.00 1020.26,1795.70 1043.72,1784.40 1067.18,1772.90 1090.64,1761.40 1114.10,1750.00 1137.56,1739.80 1161.02,1728.50 1184.48,1719.30 1207.94,1710.90 1231.40,1702.20" fill="none" stroke="#000" stroke-width="2" stroke-linejoin="round"/>
<circle cx="644.90" cy="1911.80" r="7.5" fill="#0a5a0a" stroke="#000" stroke-width="3.8"/>
<circle cx="668.36" cy="1907.40" r="7.5" fill="#0a5a0a" stroke="#000" stroke-width="3.8"/>
<circle cx="691.82" cy="1904.10" r="7.5" fill="#0a5a0a" stroke="#000" stroke-width="3.8"/>
<circle cx="715.28" cy="1899.00" r="7.5" fill="#0a5a0a" stroke="#000" stroke-width="3.8"/>
<circle cx="738.74" cy="1892.90" r="7.5" fill="#0a5a0a" stroke="#000" stroke-width="3.8"/>
<circle cx="762.20" cy="1886.50" r="7.5" fill="#0a5a0a" stroke="#000" stroke-width="3.8"/>
<circle cx="785.66" cy="1880.70" r="7.5" fill="#0a5a0a" stroke="#000" stroke-width="3.8"/>
<circle cx="809.12" cy="1873.80" r="7.5" fill="#0a5a0a" stroke="#000" stroke-width="3.8"/>
<circle cx="832.58" cy="1867.90" r="7.5" fill="#0a5a0a" stroke="#000" stroke-width="3.8"/>
<circle cx="856.04" cy="1861.50" r="7.5" fill="#0a5a0a" stroke="#000" stroke-width="3.8"/>
<circle cx="879.50" cy="1853.90" r="7.5" fill="#0a5a0a" stroke="#000" stroke-width="3.8"/>
<circle cx="902.96" cy="1846.70" r="7.5" fill="#0a5a0a" stroke="#000" stroke-width="3.8"/>
<circle cx="926.42" cy="1838.30" r="7.5" fill="#0a5a0a" stroke="#000" stroke-width="3.8"/>
<circle cx="949.88" cy="1828.50" r="7.5" fill="#0a5a0a" stroke="#000" stroke-width="3.8"/>
<circle cx="973.34" cy="1818.30" r="7.5" fill="#0a5a0a" stroke="#000" stroke-width="3.8"/>
<circle cx="996.80" cy="1807.00" r="7.5" fill="#0a5a0a" stroke="#000" stroke-width="3.8"/>
<circle cx="1020.26" cy="1795.70" r="7.5" fill="#0a5a0a" stroke="#000" stroke-width="3.8"/>
<circle cx="1043.72" cy="1784.40" r="7.5" fill="#0a5a0a" stroke="#000" stroke-width="3.8"/>
<circle cx="1067.18" cy="1772.90" r="7.5" fill="#0a5a0a" stroke="#000" stroke-width="3.8"/>
<circle cx="1090.64" cy="1761.40" r="7.5" fill="#0a5a0a" stroke="#000" stroke-width="3.8"/>
<circle cx="1114.10" cy="1750.00" r="7.5" fill="#0a5a0a" stroke="#000" stroke-width="3.8"/>
<circle cx="1137.56" cy="1739.80" r="7.5" fill="#0a5a0a" stroke="#000" stroke-width="3.8"/>
<circle cx="1161.02" cy="1728.50" r="7.5" fill="#0a5a0a" stroke="#000" stroke-width="3.8"/>
<circle cx="1184.48" cy="1719.30" r="7.5" fill="#0a5a0a" stroke="#000" stroke-width="3.8"/>
<circle cx="1207.94" cy="1710.90" r="7.5" fill="#0a5a0a" stroke="#000" stroke-width="3.8"/>
<circle cx="1231.40" cy="1702.20" r="7.5" fill="#0a5a0a" stroke="#000" stroke-width="3.8"/>
</svg>
</body></html>
